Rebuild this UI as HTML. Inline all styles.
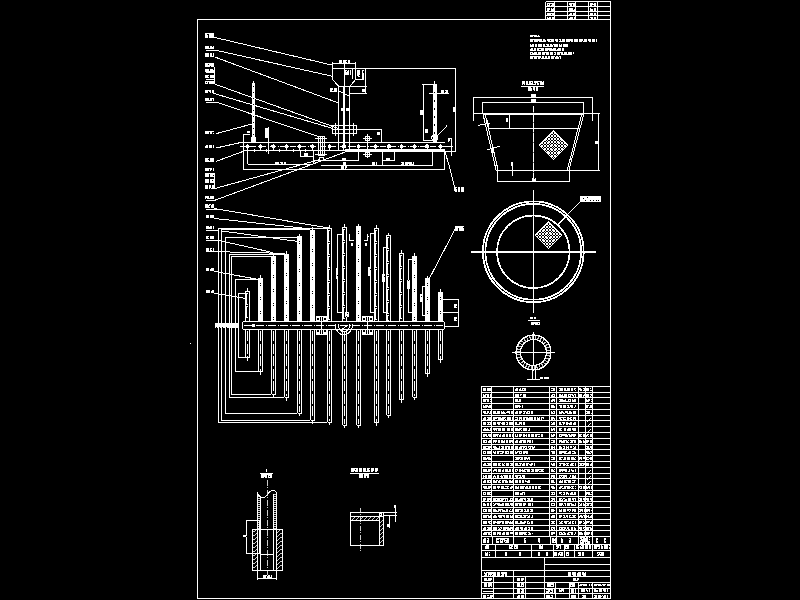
<!DOCTYPE html>
<html><head><meta charset="utf-8"><style>
html,body{margin:0;padding:0;background:#000;width:800px;height:600px;overflow:hidden;font-family:"Liberation Sans",sans-serif;}
svg{display:block}
</style></head><body>
<svg width="800" height="600" viewBox="0 0 800 600">
<rect width="800" height="600" fill="#000"/>
<g shape-rendering="crispEdges" stroke-linecap="butt">
<rect x="197.50" y="19.50" width="413.00" height="579.30" fill="none" stroke="#fff" stroke-width="1"/>
<rect x="547" y="3" width="7" height="3" fill="#fff"/>
<path d="M550,4h1v2h-1zM548,4h1v1h-1zM551,4h1v1h-1z" fill="#000"/>
<rect x="547" y="8" width="7" height="3" fill="#fff"/>
<path d="M550,8h1v3h-1zM549,10h1v1h-1zM552,8h1v1h-1z" fill="#000"/>
<rect x="547" y="13" width="7" height="2" fill="#fff"/>
<path d="M551,14h1v1h-1zM551,14h1v1h-1z" fill="#000"/>
<rect x="547" y="17" width="7" height="2" fill="#fff"/>
<path d="M551,17h1v2h-1zM548,17h1v1h-1z" fill="#000"/>
<rect x="569" y="3" width="6" height="3" fill="#fff"/>
<path d="M572,4h1v2h-1zM572,4h1v1h-1zM569,5h1v1h-1z" fill="#000"/>
<rect x="569" y="8" width="6" height="3" fill="#fff"/>
<path d="M573,8h1v2h-1zM574,8h1v1h-1zM573,8h1v1h-1z" fill="#000"/>
<rect x="569" y="13" width="6" height="2" fill="#fff"/>
<path d="M572,13h1v2h-1zM569,13h1v1h-1z" fill="#000"/>
<rect x="569" y="17" width="6" height="2" fill="#fff"/>
<path d="M573,17h1v2h-1zM569,17h1v1h-1z" fill="#000"/>
<rect x="590" y="3" width="6" height="3" fill="#fff"/>
<path d="M593,3h1v1h-1zM592,5h1v1h-1zM593,5h1v1h-1z" fill="#000"/>
<rect x="590" y="8" width="6" height="3" fill="#fff"/>
<path d="M593,8h1v3h-1zM592,8h1v1h-1zM591,8h1v1h-1z" fill="#000"/>
<rect x="590" y="13" width="6" height="2" fill="#fff"/>
<path d="M593,13h1v2h-1zM593,14h1v1h-1z" fill="#000"/>
<rect x="590" y="17" width="6" height="2" fill="#fff"/>
<path d="M593,17h1v2h-1zM590,18h1v1h-1z" fill="#000"/>
<line x1="545.50" y1="1.50" x2="545.50" y2="19.50" stroke="#fff" stroke-width="1" />
<line x1="554.50" y1="1.50" x2="554.50" y2="19.50" stroke="#fff" stroke-width="1" />
<line x1="567.50" y1="1.50" x2="567.50" y2="19.50" stroke="#fff" stroke-width="1" />
<line x1="575.50" y1="1.50" x2="575.50" y2="19.50" stroke="#fff" stroke-width="1" />
<line x1="588.50" y1="1.50" x2="588.50" y2="19.50" stroke="#fff" stroke-width="1" />
<line x1="597.50" y1="1.50" x2="597.50" y2="19.50" stroke="#fff" stroke-width="1" />
<line x1="610.50" y1="1.50" x2="610.50" y2="19.50" stroke="#fff" stroke-width="1" />
<line x1="545.50" y1="1.50" x2="610.50" y2="1.50" stroke="#fff" stroke-width="1" />
<line x1="545.50" y1="6.50" x2="610.50" y2="6.50" stroke="#fff" stroke-width="1" />
<line x1="545.50" y1="11.50" x2="610.50" y2="11.50" stroke="#fff" stroke-width="1" />
<line x1="545.50" y1="15.50" x2="610.50" y2="15.50" stroke="#fff" stroke-width="1" />
<line x1="545.50" y1="19.50" x2="610.50" y2="19.50" stroke="#fff" stroke-width="1" />
<rect x="530" y="35" width="10" height="2" fill="#fff"/>
<path d="M533,36h1v1h-1zM537,35h1v1h-1zM539,35h1v1h-1z" fill="#000"/>
<rect x="530" y="39" width="67" height="3" fill="#fff"/>
<path d="M533,40h1v2h-1zM538,41h1v1h-1zM542,39h1v2h-1zM546,39h1v3h-1zM550,40h1v1h-1zM554,39h1v3h-1zM558,39h1v3h-1zM561,39h1v2h-1zM565,39h1v3h-1zM570,41h1v1h-1zM573,39h1v3h-1zM578,39h1v3h-1zM583,39h1v2h-1zM587,39h1v3h-1zM591,39h1v3h-1zM595,39h1v3h-1zM582,41h1v1h-1zM583,40h1v1h-1zM545,39h1v1h-1zM588,41h1v1h-1zM554,41h1v1h-1zM555,41h1v1h-1zM547,41h1v1h-1zM559,40h1v1h-1z" fill="#000"/>
<rect x="530" y="44" width="38" height="3" fill="#fff"/>
<path d="M534,44h1v3h-1zM537,44h1v3h-1zM542,44h1v3h-1zM545,44h1v2h-1zM549,44h1v2h-1zM553,45h1v2h-1zM558,44h1v3h-1zM562,44h1v3h-1zM560,44h1v1h-1zM546,45h1v1h-1zM531,44h1v1h-1zM552,44h1v1h-1z" fill="#000"/>
<rect x="530" y="48" width="34" height="3" fill="#fff"/>
<path d="M533,48h1v2h-1zM536,48h1v3h-1zM540,49h1v1h-1zM544,48h1v3h-1zM548,50h1v1h-1zM552,48h1v1h-1zM556,48h1v2h-1zM561,48h1v3h-1zM539,49h1v1h-1zM544,49h1v1h-1zM557,48h1v1h-1zM530,48h1v1h-1z" fill="#000"/>
<rect x="530" y="52" width="44" height="3" fill="#fff"/>
<path d="M533,52h1v1h-1zM537,52h1v2h-1zM541,52h1v3h-1zM545,53h1v2h-1zM549,52h1v3h-1zM553,52h1v3h-1zM556,52h1v3h-1zM560,53h1v2h-1zM563,52h1v2h-1zM567,52h1v2h-1zM572,52h1v2h-1zM572,52h1v1h-1zM554,53h1v1h-1zM573,54h1v1h-1zM572,54h1v1h-1zM531,53h1v1h-1z" fill="#000"/>
<rect x="530" y="56" width="31" height="3" fill="#fff"/>
<path d="M533,57h1v2h-1zM537,57h1v2h-1zM541,56h1v2h-1zM544,56h1v2h-1zM547,56h1v2h-1zM550,56h1v3h-1zM554,57h1v2h-1zM559,57h1v2h-1zM558,56h1v1h-1zM540,58h1v1h-1zM555,56h1v1h-1z" fill="#000"/>
<rect x="205" y="33" width="9" height="5" fill="#fff"/>
<path d="M208,34h1v4h-1zM207,34h1v1h-1z" fill="#000"/>
<rect x="205" y="46" width="9" height="3" fill="#fff"/>
<path d="M209,46h1v2h-1zM212,46h1v1h-1z" fill="#000"/>
<rect x="205" y="53" width="9" height="4" fill="#fff"/>
<path d="M209,53h1v4h-1zM212,53h1v3h-1zM209,54h1v1h-1z" fill="#000"/>
<rect x="205" y="63" width="9" height="4" fill="#fff"/>
<path d="M208,64h1v1h-1zM210,66h1v1h-1z" fill="#000"/>
<rect x="205" y="69" width="9" height="3" fill="#fff"/>
<path d="M209,69h1v2h-1zM213,69h1v1h-1z" fill="#000"/>
<rect x="205" y="75" width="9" height="3" fill="#fff"/>
<path d="M209,75h1v3h-1zM208,76h1v1h-1z" fill="#000"/>
<rect x="205" y="81" width="9" height="3" fill="#fff"/>
<path d="M208,82h1v2h-1zM206,82h1v1h-1z" fill="#000"/>
<rect x="205" y="90" width="9" height="3" fill="#fff"/>
<path d="M208,91h1v2h-1zM211,90h1v3h-1zM209,92h1v1h-1z" fill="#000"/>
<rect x="205" y="98" width="9" height="3" fill="#fff"/>
<path d="M209,98h1v2h-1zM212,99h1v2h-1zM212,99h1v1h-1z" fill="#000"/>
<rect x="205" y="131" width="9" height="3" fill="#fff"/>
<path d="M209,132h1v2h-1zM212,132h1v2h-1zM213,132h1v1h-1z" fill="#000"/>
<rect x="205" y="145" width="9" height="3" fill="#fff"/>
<path d="M208,145h1v3h-1zM212,145h1v3h-1zM205,145h1v1h-1z" fill="#000"/>
<rect x="205" y="158" width="9" height="4" fill="#fff"/>
<path d="M209,158h1v3h-1zM208,159h1v1h-1z" fill="#000"/>
<rect x="205" y="168" width="9" height="3" fill="#fff"/>
<path d="M209,169h1v2h-1zM212,168h1v3h-1zM211,170h1v1h-1z" fill="#000"/>
<rect x="205" y="173" width="9" height="4" fill="#fff"/>
<path d="M209,174h1v3h-1zM213,175h1v1h-1z" fill="#000"/>
<rect x="205" y="179" width="9" height="4" fill="#fff"/>
<path d="M209,179h1v4h-1zM212,180h1v1h-1z" fill="#000"/>
<rect x="205" y="185" width="9" height="4" fill="#fff"/>
<path d="M208,185h1v4h-1zM211,185h1v3h-1zM210,188h1v1h-1z" fill="#000"/>
<rect x="205" y="196" width="9" height="3" fill="#fff"/>
<path d="M209,196h1v2h-1zM206,198h1v1h-1z" fill="#000"/>
<rect x="205" y="204" width="9" height="4" fill="#fff"/>
<path d="M208,204h1v4h-1zM211,204h1v3h-1zM210,205h1v1h-1z" fill="#000"/>
<line x1="205.90" y1="50.40" x2="216.50" y2="50.40" stroke="#fff" stroke-width="1" />
<line x1="205.90" y1="72.90" x2="214.00" y2="72.90" stroke="#fff" stroke-width="1" />
<line x1="205.90" y1="79.60" x2="214.00" y2="79.60" stroke="#fff" stroke-width="1" />
<line x1="205.90" y1="102.50" x2="217.50" y2="102.50" stroke="#fff" stroke-width="1" />
<line x1="205.70" y1="200.00" x2="215.60" y2="200.00" stroke="#fff" stroke-width="1" />
<line x1="205.70" y1="209.30" x2="222.70" y2="209.30" stroke="#fff" stroke-width="1" />
<line x1="214.30" y1="67.00" x2="214.30" y2="84.20" stroke="#fff" stroke-width="1" />
<line x1="214.20" y1="172.50" x2="214.20" y2="188.70" stroke="#fff" stroke-width="1" />
<line x1="214.10" y1="37.30" x2="332.50" y2="65.20" stroke="#fff" stroke-width="1" />
<line x1="216.50" y1="50.40" x2="332.50" y2="76.30" stroke="#fff" stroke-width="1" />
<line x1="215.00" y1="57.10" x2="338.50" y2="103.00" stroke="#fff" stroke-width="1" />
<line x1="215.00" y1="84.20" x2="338.50" y2="128.50" stroke="#fff" stroke-width="1" />
<line x1="213.30" y1="93.30" x2="333.00" y2="128.50" stroke="#fff" stroke-width="1" />
<line x1="217.50" y1="102.50" x2="319.00" y2="136.80" stroke="#fff" stroke-width="1" />
<line x1="215.60" y1="133.80" x2="252.00" y2="124.00" stroke="#fff" stroke-width="1" />
<line x1="215.60" y1="148.10" x2="243.50" y2="141.90" stroke="#fff" stroke-width="1" />
<line x1="215.60" y1="161.50" x2="243.50" y2="151.30" stroke="#fff" stroke-width="1" />
<line x1="214.20" y1="188.70" x2="319.00" y2="159.80" stroke="#fff" stroke-width="1" />
<line x1="215.60" y1="200.00" x2="344.50" y2="152.30" stroke="#fff" stroke-width="1" />
<rect x="252.20" y="82.50" width="2.60" height="60.00" fill="#fff"/>
<line x1="253.50" y1="80.50" x2="253.50" y2="83.00" stroke="#fff" stroke-width="1" />
<rect x="253.10" y="86.00" width="0.80" height="1.20" fill="#000"/>
<rect x="253.10" y="92.00" width="0.80" height="1.20" fill="#000"/>
<rect x="253.10" y="98.00" width="0.80" height="1.20" fill="#000"/>
<rect x="253.10" y="104.00" width="0.80" height="1.20" fill="#000"/>
<rect x="253.10" y="110.00" width="0.80" height="1.20" fill="#000"/>
<rect x="253.10" y="116.00" width="0.80" height="1.20" fill="#000"/>
<rect x="253.10" y="122.00" width="0.80" height="1.20" fill="#000"/>
<rect x="253.10" y="128.00" width="0.80" height="1.20" fill="#000"/>
<rect x="253.10" y="134.00" width="0.80" height="1.20" fill="#000"/>
<rect x="251.30" y="137.20" width="4.10" height="5.10" fill="none" stroke="#fff" stroke-width="1"/>
<polyline points="243.50,142.30 243.50,134.00 249.90,134.00" fill="none" stroke="#fff" stroke-width="1"/>
<rect x="247" y="131" width="3" height="2" fill="#fff"/>
<rect x="265.00" y="128.00" width="3.20" height="9.70" fill="#fff"/>
<line x1="268.20" y1="127.20" x2="268.20" y2="154.20" stroke="#fff" stroke-width="1" />
<line x1="243.00" y1="142.30" x2="444.50" y2="142.30" stroke="#fff" stroke-width="1" />
<line x1="243.00" y1="150.30" x2="345.00" y2="150.30" stroke="#fff" stroke-width="1" />
<rect x="345.00" y="149.20" width="99.50" height="2.80" fill="#fff"/>
<line x1="444.50" y1="151.60" x2="455.70" y2="151.60" stroke="#fff" stroke-width="1" />
<line x1="240" y1="146.4" x2="452" y2="146.4" stroke="#fff" stroke-width="1" stroke-dasharray="6,1.5,1,1.5"/>
<circle cx="247.60" cy="146.40" r="1.60" fill="#fff" stroke="#fff" stroke-width="1"/>
<line x1="247.60" y1="146.40" x2="247.60" y2="150.00" stroke="#fff" stroke-width="1" />
<circle cx="260.40" cy="146.40" r="1.60" fill="#fff" stroke="#fff" stroke-width="1"/>
<line x1="260.40" y1="146.40" x2="260.40" y2="150.00" stroke="#fff" stroke-width="1" />
<circle cx="273.30" cy="146.40" r="1.60" fill="#fff" stroke="#fff" stroke-width="1"/>
<line x1="273.30" y1="146.40" x2="273.30" y2="150.00" stroke="#fff" stroke-width="1" />
<circle cx="286.50" cy="146.40" r="1.60" fill="#fff" stroke="#fff" stroke-width="1"/>
<line x1="286.50" y1="146.40" x2="286.50" y2="150.00" stroke="#fff" stroke-width="1" />
<circle cx="299.50" cy="146.40" r="1.60" fill="#fff" stroke="#fff" stroke-width="1"/>
<line x1="299.50" y1="146.40" x2="299.50" y2="150.00" stroke="#fff" stroke-width="1" />
<circle cx="312.30" cy="146.40" r="1.60" fill="#fff" stroke="#fff" stroke-width="1"/>
<line x1="312.30" y1="146.40" x2="312.30" y2="150.00" stroke="#fff" stroke-width="1" />
<circle cx="329.60" cy="146.40" r="1.60" fill="#fff" stroke="#fff" stroke-width="1"/>
<line x1="329.60" y1="146.40" x2="329.60" y2="150.00" stroke="#fff" stroke-width="1" />
<circle cx="343.80" cy="146.40" r="1.60" fill="#fff" stroke="#fff" stroke-width="1"/>
<line x1="343.80" y1="146.40" x2="343.80" y2="150.00" stroke="#fff" stroke-width="1" />
<circle cx="358.60" cy="146.40" r="1.60" fill="#fff" stroke="#fff" stroke-width="1"/>
<line x1="358.60" y1="146.40" x2="358.60" y2="150.00" stroke="#fff" stroke-width="1" />
<circle cx="375.60" cy="146.40" r="1.60" fill="#fff" stroke="#fff" stroke-width="1"/>
<line x1="375.60" y1="146.40" x2="375.60" y2="150.00" stroke="#fff" stroke-width="1" />
<circle cx="388.90" cy="146.40" r="1.60" fill="#fff" stroke="#fff" stroke-width="1"/>
<line x1="388.90" y1="146.40" x2="388.90" y2="150.00" stroke="#fff" stroke-width="1" />
<circle cx="401.60" cy="146.40" r="1.60" fill="#fff" stroke="#fff" stroke-width="1"/>
<line x1="401.60" y1="146.40" x2="401.60" y2="150.00" stroke="#fff" stroke-width="1" />
<circle cx="414.50" cy="146.40" r="1.60" fill="#fff" stroke="#fff" stroke-width="1"/>
<line x1="414.50" y1="146.40" x2="414.50" y2="150.00" stroke="#fff" stroke-width="1" />
<circle cx="427.10" cy="146.40" r="1.60" fill="#fff" stroke="#fff" stroke-width="1"/>
<line x1="427.10" y1="146.40" x2="427.10" y2="150.00" stroke="#fff" stroke-width="1" />
<circle cx="440.40" cy="146.40" r="1.60" fill="#fff" stroke="#fff" stroke-width="1"/>
<line x1="440.40" y1="146.40" x2="440.40" y2="150.00" stroke="#fff" stroke-width="1" />
<line x1="254.00" y1="149.00" x2="254.00" y2="151.60" stroke="#fff" stroke-width="1" />
<line x1="266.80" y1="149.00" x2="266.80" y2="151.60" stroke="#fff" stroke-width="1" />
<line x1="279.90" y1="149.00" x2="279.90" y2="151.60" stroke="#fff" stroke-width="1" />
<line x1="293.00" y1="149.00" x2="293.00" y2="151.60" stroke="#fff" stroke-width="1" />
<line x1="305.90" y1="149.00" x2="305.90" y2="151.60" stroke="#fff" stroke-width="1" />
<line x1="243.50" y1="142.30" x2="243.50" y2="169.80" stroke="#fff" stroke-width="1" />
<line x1="243.50" y1="169.80" x2="444.60" y2="169.80" stroke="#fff" stroke-width="1" />
<line x1="444.60" y1="151.60" x2="444.60" y2="169.80" stroke="#fff" stroke-width="1" />
<line x1="247.60" y1="150.00" x2="247.60" y2="164.20" stroke="#fff" stroke-width="1" />
<line x1="247.60" y1="164.20" x2="313.00" y2="164.20" stroke="#fff" stroke-width="1" />
<line x1="313.00" y1="150.00" x2="313.00" y2="164.20" stroke="#fff" stroke-width="1" />
<line x1="300.00" y1="156.90" x2="312.50" y2="156.90" stroke="#fff" stroke-width="1" />
<line x1="300.00" y1="150.30" x2="300.00" y2="156.90" stroke="#fff" stroke-width="1" />
<rect x="275" y="162" width="11" height="2" fill="#fff"/>
<path d="M279,162h1v2h-1zM283,162h1v2h-1zM280,163h1v1h-1z" fill="#000"/>
<rect x="304" y="153" width="4" height="3" fill="#fff"/>
<line x1="321.00" y1="165.00" x2="432.80" y2="165.00" stroke="#fff" stroke-width="1" />
<line x1="432.80" y1="151.60" x2="432.80" y2="165.00" stroke="#fff" stroke-width="1" />
<line x1="312.50" y1="160.60" x2="358.40" y2="160.60" stroke="#fff" stroke-width="1" />
<line x1="358.40" y1="151.60" x2="358.40" y2="160.60" stroke="#fff" stroke-width="1" />
<rect x="342" y="158" width="4" height="2" fill="#fff"/>
<rect x="343" y="162" width="3" height="3" fill="#fff"/>
<rect x="341" y="166" width="6" height="3" fill="#fff"/>
<path d="M344,166h1v3h-1zM346,168h1v1h-1z" fill="#000"/>
<line x1="382.00" y1="151.60" x2="382.00" y2="165.00" stroke="#fff" stroke-width="1" />
<line x1="394.50" y1="151.60" x2="394.50" y2="160.50" stroke="#fff" stroke-width="1" />
<line x1="382.00" y1="160.50" x2="394.50" y2="160.50" stroke="#fff" stroke-width="1" />
<rect x="386" y="158" width="4" height="2" fill="#fff"/>
<rect x="372" y="162" width="5" height="3" fill="#fff"/>
<path d="M375,162h1v3h-1z" fill="#000"/>
<rect x="401" y="162" width="13" height="3" fill="#fff"/>
<path d="M404,162h1v3h-1zM408,164h1v1h-1zM412,162h1v2h-1zM408,164h1v1h-1zM401,163h1v1h-1z" fill="#000"/>
<rect x="318.30" y="136.70" width="5.80" height="18.60" fill="none" stroke="#fff" stroke-width="1"/>
<line x1="320.00" y1="137.00" x2="320.00" y2="155.00" stroke="#fff" stroke-width="1" />
<line x1="322.30" y1="137.00" x2="322.30" y2="155.00" stroke="#fff" stroke-width="1" />
<line x1="315.30" y1="138.00" x2="326.70" y2="138.00" stroke="#fff" stroke-width="1" />
<line x1="315.30" y1="154.30" x2="326.70" y2="154.30" stroke="#fff" stroke-width="1" />
<rect x="319.70" y="157.50" width="4.00" height="2.50" fill="none" stroke="#fff" stroke-width="1"/>
<line x1="362.50" y1="138.50" x2="372.00" y2="138.50" stroke="#fff" stroke-width="1" />
<line x1="362.50" y1="154.50" x2="372.00" y2="154.50" stroke="#fff" stroke-width="1" />
<rect x="365.00" y="136.60" width="4.50" height="3.70" fill="none" stroke="#fff" stroke-width="1"/>
<rect x="365.00" y="152.50" width="4.50" height="3.70" fill="none" stroke="#fff" stroke-width="1"/>
<line x1="367.20" y1="134.00" x2="367.20" y2="158.00" stroke="#fff" stroke-width="1" />
<polygon points="332.50,63.60 355.80,63.60 355.80,79.40 350.00,86.10 338.50,86.10 332.50,79.40" fill="none" stroke="#fff" stroke-width="1"/>
<line x1="332.50" y1="62.00" x2="332.50" y2="63.60" stroke="#fff" stroke-width="1" />
<line x1="355.80" y1="62.00" x2="355.80" y2="63.60" stroke="#fff" stroke-width="1" />
<line x1="332.50" y1="68.50" x2="365.30" y2="68.50" stroke="#fff" stroke-width="1" />
<line x1="355.80" y1="79.40" x2="364.00" y2="79.40" stroke="#fff" stroke-width="1" />
<line x1="344.60" y1="63.60" x2="344.60" y2="148.00" stroke="#fff" stroke-width="1" />
<line x1="352.80" y1="69.00" x2="352.80" y2="79.00" stroke="#fff" stroke-width="1" />
<rect x="339" y="60" width="11" height="3" fill="#fff"/>
<path d="M342,60h1v3h-1zM347,60h1v3h-1zM346,61h1v1h-1z" fill="#000"/>
<rect x="345" y="70" width="6" height="5" fill="#fff"/>
<path d="M349,70h1v5h-1zM347,70h1v1h-1zM346,71h1v1h-1zM349,70h1v1h-1z" fill="#000"/>
<line x1="365.30" y1="68.50" x2="365.30" y2="93.30" stroke="#fff" stroke-width="1" />
<line x1="349.80" y1="86.50" x2="366.60" y2="86.50" stroke="#fff" stroke-width="1" />
<line x1="349.80" y1="93.30" x2="366.60" y2="93.30" stroke="#fff" stroke-width="1" />
<rect x="357" y="70" width="3" height="7" fill="#fff"/>
<path d="M359,75h1v1h-1zM357,76h1v1h-1z" fill="#000"/>
<rect x="362" y="70" width="2" height="9" fill="#fff"/>
<path d="M363,72h1v1h-1zM363,71h1v1h-1z" fill="#000"/>
<rect x="362" y="89" width="3" height="3" fill="#fff"/>
<line x1="338.50" y1="86.10" x2="338.50" y2="150.00" stroke="#fff" stroke-width="1" />
<line x1="349.80" y1="86.10" x2="349.80" y2="150.00" stroke="#fff" stroke-width="1" />
<line x1="343.70" y1="86.90" x2="343.70" y2="150.00" stroke="#fff" stroke-width="1" />
<rect x="330" y="88" width="7" height="4" fill="#fff"/>
<path d="M333,88h1v3h-1zM332,90h1v1h-1z" fill="#000"/>
<rect x="341" y="108" width="8" height="3" fill="#fff"/>
<path d="M345,108h1v3h-1zM345,109h1v1h-1z" fill="#000"/>
<line x1="338.50" y1="91.00" x2="349.00" y2="96.00" stroke="#fff" stroke-width="1" />
<rect x="332.50" y="125.30" width="23.50" height="8.40" fill="none" stroke="#fff" stroke-width="1"/>
<line x1="332.50" y1="129.50" x2="356.00" y2="129.50" stroke="#fff" stroke-width="1" />
<line x1="335.50" y1="122.50" x2="335.50" y2="136.00" stroke="#fff" stroke-width="1" />
<line x1="353.00" y1="122.50" x2="353.00" y2="136.00" stroke="#fff" stroke-width="1" />
<polyline points="356.00,129.00 381.20,129.00 381.20,143.00" fill="none" stroke="#fff" stroke-width="1"/>
<rect x="377" y="132" width="3" height="3" fill="#fff"/>
<polyline points="365.30,68.50 455.70,68.50 455.70,151.60" fill="none" stroke="#fff" stroke-width="1"/>
<rect x="453" y="107" width="2" height="5" fill="#fff"/>
<rect x="432.90" y="84.20" width="3.70" height="58.00" fill="#fff"/>
<line x1="434.80" y1="80.50" x2="434.80" y2="84.50" stroke="#fff" stroke-width="1" />
<rect x="434.30" y="92.00" width="1.00" height="1.50" fill="#000"/>
<rect x="434.30" y="100.00" width="1.00" height="1.50" fill="#000"/>
<rect x="434.30" y="108.00" width="1.00" height="1.50" fill="#000"/>
<rect x="434.30" y="116.00" width="1.00" height="1.50" fill="#000"/>
<rect x="434.30" y="124.00" width="1.00" height="1.50" fill="#000"/>
<rect x="434.30" y="132.00" width="1.00" height="1.50" fill="#000"/>
<polyline points="422.40,84.20 432.90,84.20" fill="none" stroke="#fff" stroke-width="1"/>
<line x1="423.30" y1="84.20" x2="423.30" y2="140.30" stroke="#fff" stroke-width="1" />
<line x1="423.30" y1="140.30" x2="432.90" y2="140.30" stroke="#fff" stroke-width="1" />
<rect x="420" y="110" width="3" height="5" fill="#fff"/>
<line x1="428.80" y1="93.30" x2="448.50" y2="93.30" stroke="#fff" stroke-width="1" />
<rect x="441" y="90" width="7" height="3" fill="#fff"/>
<path d="M444,90h1v3h-1zM445,91h1v1h-1z" fill="#000"/>
<circle cx="434.80" cy="137.80" r="3.00" fill="none" stroke="#fff" stroke-width="1"/>
<line x1="437.50" y1="135.60" x2="446.00" y2="127.00" stroke="#fff" stroke-width="1" />
<rect x="446" y="125" width="1" height="2" fill="#fff"/>
<rect x="425" y="129" width="3" height="4" fill="#fff"/>
<line x1="447.80" y1="138.30" x2="451.30" y2="138.30" stroke="#fff" stroke-width="1" />
<line x1="451.30" y1="138.30" x2="451.30" y2="155.70" stroke="#fff" stroke-width="1" />
<line x1="444.50" y1="146.30" x2="452.50" y2="146.30" stroke="#fff" stroke-width="1" />
<rect x="448" y="139" width="2" height="3" fill="#fff"/>
<path d="M449,141h1v1h-1z" fill="#000"/>
<line x1="445.00" y1="151.60" x2="449.80" y2="168.00" stroke="#fff" stroke-width="1" />
<line x1="449.80" y1="168.00" x2="454.60" y2="187.50" stroke="#fff" stroke-width="1" />
<rect x="454" y="187" width="10" height="5" fill="#fff"/>
<path d="M457,187h1v5h-1zM460,187h1v5h-1zM454,191h1v1h-1zM456,188h1v1h-1z" fill="#000"/>
<rect x="206" y="205" width="8" height="3" fill="#fff"/>
<path d="M210,205h1v3h-1zM209,206h1v1h-1z" fill="#000"/>
<rect x="206" y="215" width="8" height="3" fill="#fff"/>
<path d="M209,215h1v3h-1zM209,217h1v1h-1z" fill="#000"/>
<rect x="206" y="226" width="8" height="3" fill="#fff"/>
<path d="M209,226h1v1h-1zM212,226h1v3h-1zM212,228h1v1h-1z" fill="#000"/>
<rect x="206" y="236" width="8" height="3" fill="#fff"/>
<path d="M209,236h1v3h-1zM208,237h1v1h-1z" fill="#000"/>
<rect x="206" y="248" width="8" height="4" fill="#fff"/>
<path d="M209,248h1v4h-1zM212,248h1v3h-1zM211,249h1v1h-1z" fill="#000"/>
<rect x="206" y="268" width="8" height="3" fill="#fff"/>
<path d="M209,268h1v3h-1zM210,268h1v1h-1z" fill="#000"/>
<rect x="206" y="290" width="8" height="3" fill="#fff"/>
<path d="M210,290h1v3h-1zM211,290h1v1h-1z" fill="#000"/>
<line x1="206.10" y1="230.10" x2="217.50" y2="230.10" stroke="#fff" stroke-width="1" />
<line x1="206.10" y1="240.10" x2="217.50" y2="240.10" stroke="#fff" stroke-width="1" />
<line x1="206.10" y1="251.10" x2="217.70" y2="251.10" stroke="#fff" stroke-width="1" />
<polyline points="245.50,321.50 245.50,291.00 249.50,291.00 249.50,321.50" fill="none" stroke="#fff" stroke-width="1"/>
<polyline points="247.50,293.00 246.50,293.00 246.50,304.00 247.50,304.00" fill="none" stroke="#fff" stroke-width="1"/>
<polyline points="247.50,306.00 246.50,306.00 246.50,317.00 247.50,317.00" fill="none" stroke="#fff" stroke-width="1"/>
<line x1="247.50" y1="288.30" x2="247.50" y2="290.50" stroke="#fff" stroke-width="1" />
<line x1="245.50" y1="329.30" x2="245.50" y2="357.50" stroke="#fff" stroke-width="1" />
<line x1="249.50" y1="329.30" x2="249.50" y2="357.50" stroke="#fff" stroke-width="1" />
<line x1="245.50" y1="357.50" x2="249.50" y2="357.50" stroke="#fff" stroke-width="1" />
<line x1="247.50" y1="331.30" x2="247.50" y2="356.50" stroke="#fff" stroke-width="1" stroke-dasharray="10,2.5"/>
<line x1="247.50" y1="357.50" x2="247.50" y2="360.90" stroke="#fff" stroke-width="1" />
<rect x="258.00" y="278.00" width="5.00" height="43.50" fill="#fff"/>
<rect x="260.00" y="283.00" width="1.00" height="1.00" fill="#000"/>
<rect x="260.00" y="285.00" width="1.00" height="1.00" fill="#000"/>
<rect x="260.00" y="297.00" width="1.00" height="1.00" fill="#000"/>
<rect x="260.00" y="299.00" width="1.00" height="1.00" fill="#000"/>
<rect x="260.00" y="311.00" width="1.00" height="1.00" fill="#000"/>
<rect x="260.00" y="313.00" width="1.00" height="1.00" fill="#000"/>
<line x1="260.50" y1="275.30" x2="260.50" y2="277.50" stroke="#fff" stroke-width="1" />
<line x1="258.50" y1="329.30" x2="258.50" y2="371.60" stroke="#fff" stroke-width="1" />
<line x1="262.50" y1="329.30" x2="262.50" y2="371.60" stroke="#fff" stroke-width="1" />
<line x1="258.50" y1="371.60" x2="262.50" y2="371.60" stroke="#fff" stroke-width="1" />
<line x1="260.50" y1="331.30" x2="260.50" y2="370.60" stroke="#fff" stroke-width="1" stroke-dasharray="10,2.5"/>
<line x1="260.50" y1="371.60" x2="260.50" y2="375.00" stroke="#fff" stroke-width="1" />
<rect x="271.00" y="256.00" width="5.00" height="65.50" fill="#fff"/>
<rect x="273.00" y="261.00" width="1.00" height="1.00" fill="#000"/>
<rect x="273.00" y="263.00" width="1.00" height="1.00" fill="#000"/>
<rect x="273.00" y="275.00" width="1.00" height="1.00" fill="#000"/>
<rect x="273.00" y="277.00" width="1.00" height="1.00" fill="#000"/>
<rect x="273.00" y="289.00" width="1.00" height="1.00" fill="#000"/>
<rect x="273.00" y="291.00" width="1.00" height="1.00" fill="#000"/>
<rect x="273.00" y="303.00" width="1.00" height="1.00" fill="#000"/>
<rect x="273.00" y="305.00" width="1.00" height="1.00" fill="#000"/>
<rect x="273.00" y="317.00" width="1.00" height="1.00" fill="#000"/>
<rect x="273.00" y="319.00" width="1.00" height="1.00" fill="#000"/>
<line x1="273.50" y1="253.30" x2="273.50" y2="255.50" stroke="#fff" stroke-width="1" />
<line x1="271.50" y1="329.30" x2="271.50" y2="394.40" stroke="#fff" stroke-width="1" />
<line x1="275.50" y1="329.30" x2="275.50" y2="394.40" stroke="#fff" stroke-width="1" />
<line x1="271.50" y1="394.40" x2="275.50" y2="394.40" stroke="#fff" stroke-width="1" />
<line x1="273.50" y1="331.30" x2="273.50" y2="393.40" stroke="#fff" stroke-width="1" stroke-dasharray="10,2.5"/>
<line x1="273.50" y1="394.40" x2="273.50" y2="397.80" stroke="#fff" stroke-width="1" />
<rect x="284.00" y="254.00" width="5.00" height="67.50" fill="#fff"/>
<rect x="286.00" y="259.00" width="1.00" height="1.00" fill="#000"/>
<rect x="286.00" y="261.00" width="1.00" height="1.00" fill="#000"/>
<rect x="286.00" y="273.00" width="1.00" height="1.00" fill="#000"/>
<rect x="286.00" y="275.00" width="1.00" height="1.00" fill="#000"/>
<rect x="286.00" y="287.00" width="1.00" height="1.00" fill="#000"/>
<rect x="286.00" y="289.00" width="1.00" height="1.00" fill="#000"/>
<rect x="286.00" y="301.00" width="1.00" height="1.00" fill="#000"/>
<rect x="286.00" y="303.00" width="1.00" height="1.00" fill="#000"/>
<rect x="286.00" y="315.00" width="1.00" height="1.00" fill="#000"/>
<rect x="286.00" y="317.00" width="1.00" height="1.00" fill="#000"/>
<line x1="286.50" y1="251.30" x2="286.50" y2="253.50" stroke="#fff" stroke-width="1" />
<line x1="284.50" y1="329.30" x2="284.50" y2="397.20" stroke="#fff" stroke-width="1" />
<line x1="288.50" y1="329.30" x2="288.50" y2="397.20" stroke="#fff" stroke-width="1" />
<line x1="284.50" y1="397.20" x2="288.50" y2="397.20" stroke="#fff" stroke-width="1" />
<line x1="286.50" y1="331.30" x2="286.50" y2="396.20" stroke="#fff" stroke-width="1" stroke-dasharray="10,2.5"/>
<line x1="286.50" y1="397.20" x2="286.50" y2="400.60" stroke="#fff" stroke-width="1" />
<rect x="297.00" y="236.00" width="5.00" height="85.50" fill="#fff"/>
<rect x="299.00" y="241.00" width="1.00" height="1.00" fill="#000"/>
<rect x="299.00" y="243.00" width="1.00" height="1.00" fill="#000"/>
<rect x="299.00" y="255.00" width="1.00" height="1.00" fill="#000"/>
<rect x="299.00" y="257.00" width="1.00" height="1.00" fill="#000"/>
<rect x="299.00" y="269.00" width="1.00" height="1.00" fill="#000"/>
<rect x="299.00" y="271.00" width="1.00" height="1.00" fill="#000"/>
<rect x="299.00" y="283.00" width="1.00" height="1.00" fill="#000"/>
<rect x="299.00" y="285.00" width="1.00" height="1.00" fill="#000"/>
<rect x="299.00" y="297.00" width="1.00" height="1.00" fill="#000"/>
<rect x="299.00" y="299.00" width="1.00" height="1.00" fill="#000"/>
<rect x="299.00" y="311.00" width="1.00" height="1.00" fill="#000"/>
<rect x="299.00" y="313.00" width="1.00" height="1.00" fill="#000"/>
<line x1="299.50" y1="233.80" x2="299.50" y2="236.00" stroke="#fff" stroke-width="1" />
<line x1="297.50" y1="329.30" x2="297.50" y2="413.00" stroke="#fff" stroke-width="1" />
<line x1="301.50" y1="329.30" x2="301.50" y2="413.00" stroke="#fff" stroke-width="1" />
<line x1="297.50" y1="413.00" x2="301.50" y2="413.00" stroke="#fff" stroke-width="1" />
<line x1="299.50" y1="331.30" x2="299.50" y2="412.00" stroke="#fff" stroke-width="1" stroke-dasharray="10,2.5"/>
<line x1="299.50" y1="413.00" x2="299.50" y2="416.40" stroke="#fff" stroke-width="1" />
<rect x="310.00" y="230.00" width="5.00" height="91.50" fill="#fff"/>
<rect x="312.00" y="235.00" width="1.00" height="1.00" fill="#000"/>
<rect x="312.00" y="237.00" width="1.00" height="1.00" fill="#000"/>
<rect x="312.00" y="249.00" width="1.00" height="1.00" fill="#000"/>
<rect x="312.00" y="251.00" width="1.00" height="1.00" fill="#000"/>
<rect x="312.00" y="263.00" width="1.00" height="1.00" fill="#000"/>
<rect x="312.00" y="265.00" width="1.00" height="1.00" fill="#000"/>
<rect x="312.00" y="277.00" width="1.00" height="1.00" fill="#000"/>
<rect x="312.00" y="279.00" width="1.00" height="1.00" fill="#000"/>
<rect x="312.00" y="291.00" width="1.00" height="1.00" fill="#000"/>
<rect x="312.00" y="293.00" width="1.00" height="1.00" fill="#000"/>
<rect x="312.00" y="305.00" width="1.00" height="1.00" fill="#000"/>
<rect x="312.00" y="307.00" width="1.00" height="1.00" fill="#000"/>
<line x1="312.50" y1="227.30" x2="312.50" y2="229.50" stroke="#fff" stroke-width="1" />
<line x1="310.50" y1="329.30" x2="310.50" y2="420.40" stroke="#fff" stroke-width="1" />
<line x1="314.50" y1="329.30" x2="314.50" y2="420.40" stroke="#fff" stroke-width="1" />
<line x1="310.50" y1="420.40" x2="314.50" y2="420.40" stroke="#fff" stroke-width="1" />
<line x1="312.50" y1="331.30" x2="312.50" y2="419.40" stroke="#fff" stroke-width="1" stroke-dasharray="10,2.5"/>
<line x1="312.50" y1="420.40" x2="312.50" y2="423.80" stroke="#fff" stroke-width="1" />
<polyline points="327.50,321.50 327.50,228.00 331.50,228.00 331.50,321.50" fill="none" stroke="#fff" stroke-width="1"/>
<polyline points="329.50,230.00 328.50,230.00 328.50,241.00 329.50,241.00" fill="none" stroke="#fff" stroke-width="1"/>
<polyline points="329.50,243.00 328.50,243.00 328.50,254.00 329.50,254.00" fill="none" stroke="#fff" stroke-width="1"/>
<polyline points="329.50,256.00 328.50,256.00 328.50,267.00 329.50,267.00" fill="none" stroke="#fff" stroke-width="1"/>
<polyline points="329.50,269.00 328.50,269.00 328.50,280.00 329.50,280.00" fill="none" stroke="#fff" stroke-width="1"/>
<polyline points="329.50,282.00 328.50,282.00 328.50,293.00 329.50,293.00" fill="none" stroke="#fff" stroke-width="1"/>
<polyline points="329.50,295.00 328.50,295.00 328.50,306.00 329.50,306.00" fill="none" stroke="#fff" stroke-width="1"/>
<polyline points="329.50,308.00 328.50,308.00 328.50,319.00 329.50,319.00" fill="none" stroke="#fff" stroke-width="1"/>
<line x1="329.50" y1="225.30" x2="329.50" y2="227.50" stroke="#fff" stroke-width="1" />
<line x1="327.50" y1="329.30" x2="327.50" y2="422.00" stroke="#fff" stroke-width="1" />
<line x1="331.50" y1="329.30" x2="331.50" y2="422.00" stroke="#fff" stroke-width="1" />
<line x1="327.50" y1="422.00" x2="331.50" y2="422.00" stroke="#fff" stroke-width="1" />
<line x1="329.50" y1="331.30" x2="329.50" y2="421.00" stroke="#fff" stroke-width="1" stroke-dasharray="10,2.5"/>
<line x1="329.50" y1="422.00" x2="329.50" y2="425.40" stroke="#fff" stroke-width="1" />
<polyline points="342.50,321.50 342.50,227.00 346.50,227.00 346.50,321.50" fill="none" stroke="#fff" stroke-width="1"/>
<polyline points="344.50,229.00 343.50,229.00 343.50,240.00 344.50,240.00" fill="none" stroke="#fff" stroke-width="1"/>
<polyline points="344.50,242.00 343.50,242.00 343.50,253.00 344.50,253.00" fill="none" stroke="#fff" stroke-width="1"/>
<polyline points="344.50,255.00 343.50,255.00 343.50,266.00 344.50,266.00" fill="none" stroke="#fff" stroke-width="1"/>
<polyline points="344.50,268.00 343.50,268.00 343.50,279.00 344.50,279.00" fill="none" stroke="#fff" stroke-width="1"/>
<polyline points="344.50,281.00 343.50,281.00 343.50,292.00 344.50,292.00" fill="none" stroke="#fff" stroke-width="1"/>
<polyline points="344.50,294.00 343.50,294.00 343.50,305.00 344.50,305.00" fill="none" stroke="#fff" stroke-width="1"/>
<polyline points="344.50,307.00 343.50,307.00 343.50,318.00 344.50,318.00" fill="none" stroke="#fff" stroke-width="1"/>
<line x1="344.50" y1="224.30" x2="344.50" y2="226.50" stroke="#fff" stroke-width="1" />
<line x1="342.50" y1="329.30" x2="342.50" y2="425.00" stroke="#fff" stroke-width="1" />
<line x1="346.50" y1="329.30" x2="346.50" y2="425.00" stroke="#fff" stroke-width="1" />
<line x1="342.50" y1="425.00" x2="346.50" y2="425.00" stroke="#fff" stroke-width="1" />
<line x1="344.50" y1="331.30" x2="344.50" y2="424.00" stroke="#fff" stroke-width="1" stroke-dasharray="10,2.5"/>
<line x1="344.50" y1="425.00" x2="344.50" y2="428.40" stroke="#fff" stroke-width="1" />
<rect x="356.00" y="226.00" width="5.00" height="95.50" fill="#fff"/>
<rect x="358.00" y="231.00" width="1.00" height="1.00" fill="#000"/>
<rect x="358.00" y="233.00" width="1.00" height="1.00" fill="#000"/>
<rect x="358.00" y="245.00" width="1.00" height="1.00" fill="#000"/>
<rect x="358.00" y="247.00" width="1.00" height="1.00" fill="#000"/>
<rect x="358.00" y="259.00" width="1.00" height="1.00" fill="#000"/>
<rect x="358.00" y="261.00" width="1.00" height="1.00" fill="#000"/>
<rect x="358.00" y="273.00" width="1.00" height="1.00" fill="#000"/>
<rect x="358.00" y="275.00" width="1.00" height="1.00" fill="#000"/>
<rect x="358.00" y="287.00" width="1.00" height="1.00" fill="#000"/>
<rect x="358.00" y="289.00" width="1.00" height="1.00" fill="#000"/>
<rect x="358.00" y="301.00" width="1.00" height="1.00" fill="#000"/>
<rect x="358.00" y="303.00" width="1.00" height="1.00" fill="#000"/>
<rect x="358.00" y="315.00" width="1.00" height="1.00" fill="#000"/>
<rect x="358.00" y="317.00" width="1.00" height="1.00" fill="#000"/>
<line x1="358.50" y1="223.80" x2="358.50" y2="226.00" stroke="#fff" stroke-width="1" />
<line x1="356.50" y1="329.30" x2="356.50" y2="425.00" stroke="#fff" stroke-width="1" />
<line x1="360.50" y1="329.30" x2="360.50" y2="425.00" stroke="#fff" stroke-width="1" />
<line x1="356.50" y1="425.00" x2="360.50" y2="425.00" stroke="#fff" stroke-width="1" />
<line x1="358.50" y1="331.30" x2="358.50" y2="424.00" stroke="#fff" stroke-width="1" stroke-dasharray="10,2.5"/>
<line x1="358.50" y1="425.00" x2="358.50" y2="428.40" stroke="#fff" stroke-width="1" />
<polyline points="374.50,321.50 374.50,228.00 378.50,228.00 378.50,321.50" fill="none" stroke="#fff" stroke-width="1"/>
<polyline points="376.50,230.00 375.50,230.00 375.50,241.00 376.50,241.00" fill="none" stroke="#fff" stroke-width="1"/>
<polyline points="376.50,243.00 375.50,243.00 375.50,254.00 376.50,254.00" fill="none" stroke="#fff" stroke-width="1"/>
<polyline points="376.50,256.00 375.50,256.00 375.50,267.00 376.50,267.00" fill="none" stroke="#fff" stroke-width="1"/>
<polyline points="376.50,269.00 375.50,269.00 375.50,280.00 376.50,280.00" fill="none" stroke="#fff" stroke-width="1"/>
<polyline points="376.50,282.00 375.50,282.00 375.50,293.00 376.50,293.00" fill="none" stroke="#fff" stroke-width="1"/>
<polyline points="376.50,295.00 375.50,295.00 375.50,306.00 376.50,306.00" fill="none" stroke="#fff" stroke-width="1"/>
<polyline points="376.50,308.00 375.50,308.00 375.50,319.00 376.50,319.00" fill="none" stroke="#fff" stroke-width="1"/>
<line x1="376.50" y1="225.30" x2="376.50" y2="227.50" stroke="#fff" stroke-width="1" />
<line x1="374.50" y1="329.30" x2="374.50" y2="422.50" stroke="#fff" stroke-width="1" />
<line x1="378.50" y1="329.30" x2="378.50" y2="422.50" stroke="#fff" stroke-width="1" />
<line x1="374.50" y1="422.50" x2="378.50" y2="422.50" stroke="#fff" stroke-width="1" />
<line x1="376.50" y1="331.30" x2="376.50" y2="421.50" stroke="#fff" stroke-width="1" stroke-dasharray="10,2.5"/>
<line x1="376.50" y1="422.50" x2="376.50" y2="425.90" stroke="#fff" stroke-width="1" />
<polyline points="386.50,321.50 386.50,235.50 390.50,235.50 390.50,321.50" fill="none" stroke="#fff" stroke-width="1"/>
<polyline points="388.50,237.50 387.50,237.50 387.50,248.50 388.50,248.50" fill="none" stroke="#fff" stroke-width="1"/>
<polyline points="388.50,250.50 387.50,250.50 387.50,261.50 388.50,261.50" fill="none" stroke="#fff" stroke-width="1"/>
<polyline points="388.50,263.50 387.50,263.50 387.50,274.50 388.50,274.50" fill="none" stroke="#fff" stroke-width="1"/>
<polyline points="388.50,276.50 387.50,276.50 387.50,287.50 388.50,287.50" fill="none" stroke="#fff" stroke-width="1"/>
<polyline points="388.50,289.50 387.50,289.50 387.50,300.50 388.50,300.50" fill="none" stroke="#fff" stroke-width="1"/>
<polyline points="388.50,302.50 387.50,302.50 387.50,313.50 388.50,313.50" fill="none" stroke="#fff" stroke-width="1"/>
<polyline points="388.50,315.50 387.50,315.50 387.50,320.00 388.50,320.00" fill="none" stroke="#fff" stroke-width="1"/>
<line x1="388.50" y1="232.80" x2="388.50" y2="235.00" stroke="#fff" stroke-width="1" />
<line x1="386.50" y1="329.30" x2="386.50" y2="415.00" stroke="#fff" stroke-width="1" />
<line x1="390.50" y1="329.30" x2="390.50" y2="415.00" stroke="#fff" stroke-width="1" />
<line x1="386.50" y1="415.00" x2="390.50" y2="415.00" stroke="#fff" stroke-width="1" />
<line x1="388.50" y1="331.30" x2="388.50" y2="414.00" stroke="#fff" stroke-width="1" stroke-dasharray="10,2.5"/>
<line x1="388.50" y1="415.00" x2="388.50" y2="418.40" stroke="#fff" stroke-width="1" />
<polyline points="399.50,321.50 399.50,253.00 403.50,253.00 403.50,321.50" fill="none" stroke="#fff" stroke-width="1"/>
<polyline points="401.50,255.00 400.50,255.00 400.50,266.00 401.50,266.00" fill="none" stroke="#fff" stroke-width="1"/>
<polyline points="401.50,268.00 400.50,268.00 400.50,279.00 401.50,279.00" fill="none" stroke="#fff" stroke-width="1"/>
<polyline points="401.50,281.00 400.50,281.00 400.50,292.00 401.50,292.00" fill="none" stroke="#fff" stroke-width="1"/>
<polyline points="401.50,294.00 400.50,294.00 400.50,305.00 401.50,305.00" fill="none" stroke="#fff" stroke-width="1"/>
<polyline points="401.50,307.00 400.50,307.00 400.50,318.00 401.50,318.00" fill="none" stroke="#fff" stroke-width="1"/>
<line x1="401.50" y1="250.30" x2="401.50" y2="252.50" stroke="#fff" stroke-width="1" />
<line x1="399.50" y1="329.30" x2="399.50" y2="399.50" stroke="#fff" stroke-width="1" />
<line x1="403.50" y1="329.30" x2="403.50" y2="399.50" stroke="#fff" stroke-width="1" />
<line x1="399.50" y1="399.50" x2="403.50" y2="399.50" stroke="#fff" stroke-width="1" />
<line x1="401.50" y1="331.30" x2="401.50" y2="398.50" stroke="#fff" stroke-width="1" stroke-dasharray="10,2.5"/>
<line x1="401.50" y1="399.50" x2="401.50" y2="402.90" stroke="#fff" stroke-width="1" />
<rect x="412.00" y="256.00" width="5.00" height="65.50" fill="#fff"/>
<rect x="414.00" y="261.00" width="1.00" height="1.00" fill="#000"/>
<rect x="414.00" y="263.00" width="1.00" height="1.00" fill="#000"/>
<rect x="414.00" y="275.00" width="1.00" height="1.00" fill="#000"/>
<rect x="414.00" y="277.00" width="1.00" height="1.00" fill="#000"/>
<rect x="414.00" y="289.00" width="1.00" height="1.00" fill="#000"/>
<rect x="414.00" y="291.00" width="1.00" height="1.00" fill="#000"/>
<rect x="414.00" y="303.00" width="1.00" height="1.00" fill="#000"/>
<rect x="414.00" y="305.00" width="1.00" height="1.00" fill="#000"/>
<rect x="414.00" y="317.00" width="1.00" height="1.00" fill="#000"/>
<rect x="414.00" y="319.00" width="1.00" height="1.00" fill="#000"/>
<line x1="414.50" y1="253.30" x2="414.50" y2="255.50" stroke="#fff" stroke-width="1" />
<line x1="412.50" y1="329.30" x2="412.50" y2="397.00" stroke="#fff" stroke-width="1" />
<line x1="416.50" y1="329.30" x2="416.50" y2="397.00" stroke="#fff" stroke-width="1" />
<line x1="412.50" y1="397.00" x2="416.50" y2="397.00" stroke="#fff" stroke-width="1" />
<line x1="414.50" y1="331.30" x2="414.50" y2="396.00" stroke="#fff" stroke-width="1" stroke-dasharray="10,2.5"/>
<line x1="414.50" y1="397.00" x2="414.50" y2="400.40" stroke="#fff" stroke-width="1" />
<rect x="425.00" y="278.00" width="5.00" height="43.50" fill="#fff"/>
<rect x="427.00" y="283.00" width="1.00" height="1.00" fill="#000"/>
<rect x="427.00" y="285.00" width="1.00" height="1.00" fill="#000"/>
<rect x="427.00" y="297.00" width="1.00" height="1.00" fill="#000"/>
<rect x="427.00" y="299.00" width="1.00" height="1.00" fill="#000"/>
<rect x="427.00" y="311.00" width="1.00" height="1.00" fill="#000"/>
<rect x="427.00" y="313.00" width="1.00" height="1.00" fill="#000"/>
<line x1="427.50" y1="276.30" x2="427.50" y2="278.50" stroke="#fff" stroke-width="1" />
<line x1="425.50" y1="329.30" x2="425.50" y2="373.80" stroke="#fff" stroke-width="1" />
<line x1="429.50" y1="329.30" x2="429.50" y2="373.80" stroke="#fff" stroke-width="1" />
<line x1="425.50" y1="373.80" x2="429.50" y2="373.80" stroke="#fff" stroke-width="1" />
<line x1="427.50" y1="331.30" x2="427.50" y2="372.80" stroke="#fff" stroke-width="1" stroke-dasharray="10,2.5"/>
<line x1="427.50" y1="373.80" x2="427.50" y2="377.20" stroke="#fff" stroke-width="1" />
<rect x="438.00" y="292.00" width="5.00" height="29.50" fill="#fff"/>
<rect x="440.00" y="297.00" width="1.00" height="1.00" fill="#000"/>
<rect x="440.00" y="299.00" width="1.00" height="1.00" fill="#000"/>
<rect x="440.00" y="311.00" width="1.00" height="1.00" fill="#000"/>
<rect x="440.00" y="313.00" width="1.00" height="1.00" fill="#000"/>
<line x1="440.50" y1="289.30" x2="440.50" y2="291.50" stroke="#fff" stroke-width="1" />
<line x1="438.50" y1="329.30" x2="438.50" y2="359.50" stroke="#fff" stroke-width="1" />
<line x1="442.50" y1="329.30" x2="442.50" y2="359.50" stroke="#fff" stroke-width="1" />
<line x1="438.50" y1="359.50" x2="442.50" y2="359.50" stroke="#fff" stroke-width="1" />
<line x1="440.50" y1="331.30" x2="440.50" y2="358.50" stroke="#fff" stroke-width="1" stroke-dasharray="10,2.5"/>
<line x1="440.50" y1="359.50" x2="440.50" y2="362.90" stroke="#fff" stroke-width="1" />
<polyline points="342.00,234.00 337.50,234.00 337.50,312.50 342.00,312.50" fill="none" stroke="#fff" stroke-width="1"/>
<polyline points="373.80,233.50 370.00,233.50 370.00,312.50 373.80,312.50" fill="none" stroke="#fff" stroke-width="1"/>
<polyline points="386.30,247.20 383.40,247.20 383.40,312.20 386.30,312.20" fill="none" stroke="#fff" stroke-width="1"/>
<polyline points="412.50,259.80 408.60,259.80 408.60,312.20 412.50,312.20" fill="none" stroke="#fff" stroke-width="1"/>
<polyline points="425.30,286.00 422.00,286.00 422.00,315.00 425.30,315.00" fill="none" stroke="#fff" stroke-width="1"/>
<rect x="336" y="268" width="2" height="11" fill="#fff"/>
<path d="M337,275h1v1h-1z" fill="#000"/>
<rect x="368" y="267" width="3" height="9" fill="#fff"/>
<path d="M370,269h1v1h-1z" fill="#000"/>
<rect x="382" y="274" width="3" height="8" fill="#fff"/>
<path d="M384,276h1v1h-1z" fill="#000"/>
<rect x="407" y="280" width="3" height="9" fill="#fff"/>
<path d="M408,280h1v1h-1z" fill="#000"/>
<rect x="420" y="294" width="3" height="8" fill="#fff"/>
<path d="M421,296h1v1h-1z" fill="#000"/>
<polyline points="349.50,233.50 349.50,240.50 353.50,240.50" fill="none" stroke="#fff" stroke-width="1"/>
<line x1="348.50" y1="236.50" x2="349.50" y2="236.50" stroke="#fff" stroke-width="1" />
<rect x="351" y="243" width="2" height="3" fill="#fff"/>
<polyline points="367.50,233.50 367.50,240.50 363.50,240.50" fill="none" stroke="#fff" stroke-width="1"/>
<line x1="367.50" y1="236.50" x2="368.50" y2="236.50" stroke="#fff" stroke-width="1" />
<rect x="365" y="243" width="2" height="3" fill="#fff"/>
<polyline points="245.00,293.50 238.00,293.50 238.00,357.50 245.00,357.50" fill="none" stroke="#fff" stroke-width="1"/>
<polyline points="258.00,279.50 235.50,279.50 235.50,371.60 258.00,371.60" fill="none" stroke="#fff" stroke-width="1"/>
<polyline points="271.00,256.40 231.70,256.40 231.70,394.40 271.00,394.40" fill="none" stroke="#fff" stroke-width="1"/>
<polyline points="284.00,254.80 229.00,254.80 229.00,397.20 284.00,397.20" fill="none" stroke="#fff" stroke-width="1"/>
<polyline points="297.00,237.60 225.30,237.60 225.30,413.00 297.00,413.00" fill="none" stroke="#fff" stroke-width="1"/>
<polyline points="310.00,229.80 221.00,229.80 221.00,420.40 310.00,420.40" fill="none" stroke="#fff" stroke-width="1"/>
<polyline points="327.00,228.30 218.20,228.30 218.20,422.00 327.00,422.00" fill="none" stroke="#fff" stroke-width="1"/>
<line x1="213.80" y1="208.40" x2="329.00" y2="228.10" stroke="#fff" stroke-width="1" />
<line x1="213.80" y1="218.40" x2="311.30" y2="229.00" stroke="#fff" stroke-width="1" />
<line x1="220.60" y1="231.00" x2="225.00" y2="231.00" stroke="#fff" stroke-width="1" />
<line x1="225.00" y1="231.40" x2="297.50" y2="241.40" stroke="#fff" stroke-width="1" />
<line x1="217.50" y1="240.10" x2="273.10" y2="252.60" stroke="#fff" stroke-width="1" />
<line x1="213.80" y1="251.60" x2="285.00" y2="253.40" stroke="#fff" stroke-width="1" />
<line x1="213.80" y1="271.30" x2="259.70" y2="279.70" stroke="#fff" stroke-width="1" />
<line x1="213.80" y1="293.20" x2="245.60" y2="298.40" stroke="#fff" stroke-width="1" />
<line x1="242.50" y1="321.50" x2="444.00" y2="321.50" stroke="#fff" stroke-width="1.2" />
<line x1="242.50" y1="329.30" x2="444.00" y2="329.30" stroke="#fff" stroke-width="1.2" />
<line x1="242.50" y1="321.50" x2="242.50" y2="329.30" stroke="#fff" stroke-width="1" />
<line x1="444.00" y1="321.50" x2="444.00" y2="329.30" stroke="#fff" stroke-width="1" />
<line x1="244" y1="325.3" x2="443" y2="325.3" stroke="#fff" stroke-width="1" stroke-dasharray="8,1.5,1,1.5"/>
<circle cx="253.50" cy="325.50" r="1.50" fill="#fff" stroke="#fff" stroke-width="1"/>
<rect x="215.00" y="323.00" width="24.00" height="5.00" fill="#fff"/>
<rect x="216.00" y="327.00" width="1.00" height="1.00" fill="#000"/>
<rect x="219.00" y="327.00" width="1.00" height="1.00" fill="#000"/>
<rect x="222.00" y="327.00" width="1.00" height="1.00" fill="#000"/>
<rect x="226.00" y="327.00" width="1.00" height="1.00" fill="#000"/>
<rect x="315.50" y="315.50" width="11.00" height="6.00" fill="#fff"/>
<rect x="315.50" y="329.00" width="11.00" height="6.00" fill="#fff"/>
<rect x="316.50" y="318.00" width="2.00" height="2.00" fill="#000"/>
<rect x="323.50" y="318.00" width="2.00" height="2.00" fill="#000"/>
<rect x="319.50" y="317.00" width="1.00" height="4.00" fill="#000"/>
<rect x="321.50" y="317.00" width="1.00" height="4.00" fill="#000"/>
<rect x="316.50" y="330.00" width="2.00" height="2.00" fill="#000"/>
<rect x="323.50" y="330.00" width="2.00" height="2.00" fill="#000"/>
<rect x="319.50" y="330.00" width="1.00" height="4.00" fill="#000"/>
<rect x="321.50" y="330.00" width="1.00" height="4.00" fill="#000"/>
<line x1="321.00" y1="321.50" x2="321.00" y2="329.30" stroke="#fff" stroke-width="1" />
<rect x="362.00" y="315.50" width="11.00" height="6.00" fill="#fff"/>
<rect x="362.00" y="329.00" width="11.00" height="6.00" fill="#fff"/>
<rect x="363.00" y="318.00" width="2.00" height="2.00" fill="#000"/>
<rect x="370.00" y="318.00" width="2.00" height="2.00" fill="#000"/>
<rect x="366.00" y="317.00" width="1.00" height="4.00" fill="#000"/>
<rect x="368.00" y="317.00" width="1.00" height="4.00" fill="#000"/>
<rect x="363.00" y="330.00" width="2.00" height="2.00" fill="#000"/>
<rect x="370.00" y="330.00" width="2.00" height="2.00" fill="#000"/>
<rect x="366.00" y="330.00" width="1.00" height="4.00" fill="#000"/>
<rect x="368.00" y="330.00" width="1.00" height="4.00" fill="#000"/>
<line x1="367.50" y1="321.50" x2="367.50" y2="329.30" stroke="#fff" stroke-width="1" />
<path d="M335,323.8 A8.8,11 0 0 0 352.6,323.8" fill="none" stroke="#fff" stroke-width="1"/>
<path d="M338,323.8 A6,8 0 0 0 350,323.8" fill="none" stroke="#fff" stroke-width="1"/>
<line x1="340.00" y1="331.00" x2="348.00" y2="325.00" stroke="#fff" stroke-width="1" />
<rect x="345" y="312" width="4" height="5" fill="#fff"/>
<path d="M347,313h1v1h-1zM346,316h1v1h-1z" fill="#000"/>
<polyline points="442.50,299.50 458.00,299.50 458.00,326.00 444.00,326.00" fill="none" stroke="#fff" stroke-width="1"/>
<line x1="442.50" y1="312.50" x2="458.00" y2="312.50" stroke="#fff" stroke-width="1" />
<rect x="454" y="304" width="3" height="4" fill="#fff"/>
<path d="M456,306h1v1h-1z" fill="#000"/>
<rect x="454" y="317" width="3" height="4" fill="#fff"/>
<path d="M456,319h1v1h-1z" fill="#000"/>
<rect x="455" y="226" width="9" height="5" fill="#fff"/>
<path d="M458,228h1v4h-1zM463,227h1v1h-1z" fill="#000"/>
<line x1="429.40" y1="278.40" x2="455.30" y2="228.80" stroke="#fff" stroke-width="1" />
<rect x="522" y="81" width="22" height="4" fill="#fff"/>
<path d="M525,81h1v4h-1zM528,81h1v3h-1zM533,81h1v3h-1zM536,83h1v3h-1zM539,82h1v3h-1zM523,84h1v1h-1zM542,81h1v1h-1zM534,83h1v1h-1zM531,82h1v1h-1zM538,82h1v1h-1z" fill="#000"/>
<line x1="521.00" y1="86.00" x2="544.00" y2="86.00" stroke="#fff" stroke-width="1" />
<rect x="528" y="87" width="10" height="4" fill="#fff"/>
<path d="M532,87h1v4h-1zM535,87h1v4h-1zM531,87h1v1h-1zM533,90h1v1h-1z" fill="#000"/>
<line x1="473.40" y1="97.50" x2="592.50" y2="97.50" stroke="#fff" stroke-width="1" />
<line x1="473.40" y1="97.50" x2="473.40" y2="121.00" stroke="#fff" stroke-width="1" />
<line x1="592.50" y1="97.50" x2="592.50" y2="121.00" stroke="#fff" stroke-width="1" />
<rect x="531" y="94" width="5" height="3" fill="#fff"/>
<line x1="482.30" y1="102.20" x2="583.50" y2="102.20" stroke="#fff" stroke-width="1" />
<line x1="482.30" y1="102.20" x2="482.30" y2="114.40" stroke="#fff" stroke-width="1" />
<line x1="583.50" y1="102.20" x2="583.50" y2="114.40" stroke="#fff" stroke-width="1" />
<rect x="531" y="99" width="5" height="3" fill="#fff"/>
<line x1="473.40" y1="113.40" x2="600.00" y2="113.40" stroke="#fff" stroke-width="1" />
<line x1="482.80" y1="114.60" x2="583.50" y2="114.60" stroke="#fff" stroke-width="1" />
<line x1="482.80" y1="113.40" x2="496.00" y2="169.70" stroke="#fff" stroke-width="1" />
<line x1="484.90" y1="113.40" x2="498.00" y2="169.70" stroke="#fff" stroke-width="1" />
<line x1="584.00" y1="113.40" x2="569.00" y2="169.70" stroke="#fff" stroke-width="1" />
<line x1="581.90" y1="113.40" x2="567.40" y2="169.70" stroke="#fff" stroke-width="1" />
<line x1="489.40" y1="128.40" x2="576.60" y2="128.40" stroke="#fff" stroke-width="1" />
<line x1="496.00" y1="170.30" x2="600.00" y2="170.30" stroke="#fff" stroke-width="1" />
<rect x="497.30" y="170.30" width="71.70" height="10.70" fill="none" stroke="#fff" stroke-width="1"/>
<line x1="533.40" y1="106.00" x2="533.40" y2="179.00" stroke="#fff" stroke-width="1" />
<line x1="533.4" y1="106" x2="533.4" y2="179" stroke="#000" stroke-width="0.6" stroke-dasharray="0,6,1,3"/>
<rect x="532" y="178" width="4" height="3" fill="#fff"/>
<path d="M534,178h1v1h-1z" fill="#000"/>
<line x1="509.00" y1="115.30" x2="509.00" y2="128.40" stroke="#fff" stroke-width="1" />
<rect x="506" y="118" width="2" height="4" fill="#fff"/>
<line x1="598.70" y1="114.40" x2="598.70" y2="170.60" stroke="#fff" stroke-width="1" />
<rect x="595" y="141" width="3" height="3" fill="#fff"/>
<line x1="478.00" y1="125.50" x2="490.00" y2="123.00" stroke="#fff" stroke-width="1" />
<line x1="487.00" y1="120.50" x2="489.00" y2="128.00" stroke="#fff" stroke-width="1" />
<line x1="487.00" y1="150.00" x2="500.00" y2="146.00" stroke="#fff" stroke-width="1" />
<line x1="492.00" y1="144.00" x2="493.00" y2="153.00" stroke="#fff" stroke-width="1" />
<line x1="512.00" y1="162.00" x2="512.00" y2="176.00" stroke="#fff" stroke-width="1" />
<rect x="511" y="162" width="2" height="4" fill="#fff"/>
<g transform="translate(553.5,144.8) rotate(45)" shape-rendering="crispEdges">
<rect x="-10.1" y="-10.1" width="20.2" height="20.2" fill="none" stroke="#fff" stroke-width="1"/>
<path d="M-10.10,-9.10H10.10M-9.10,-10.10V10.10M-10.10,-7.10H10.10M-7.10,-10.10V10.10M-10.10,-5.10H10.10M-5.10,-10.10V10.10M-10.10,-3.10H10.10M-3.10,-10.10V10.10M-10.10,-1.10H10.10M-1.10,-10.10V10.10M-10.10,0.90H10.10M0.90,-10.10V10.10M-10.10,2.90H10.10M2.90,-10.10V10.10M-10.10,4.90H10.10M4.90,-10.10V10.10M-10.10,6.90H10.10M6.90,-10.10V10.10M-10.10,8.90H10.10M8.90,-10.10V10.10" stroke="#fff" stroke-width="1"/>
</g>
<rect x="580.00" y="196.00" width="21.00" height="6.00" fill="#fff"/>
<rect x="583.00" y="198.00" width="1.00" height="1.00" fill="#000"/>
<rect x="587.00" y="197.00" width="1.00" height="1.00" fill="#000"/>
<rect x="590.00" y="200.00" width="1.00" height="1.00" fill="#000"/>
<rect x="593.00" y="200.00" width="1.00" height="1.00" fill="#000"/>
<rect x="596.00" y="200.00" width="1.00" height="1.00" fill="#000"/>
<rect x="598.00" y="200.00" width="1.00" height="1.00" fill="#000"/>
<rect x="585.00" y="200.00" width="1.00" height="1.00" fill="#000"/>
<circle cx="533.30" cy="251.80" r="50.40" fill="none" stroke="#fff" stroke-width="1.7"/>
<circle cx="533.30" cy="251.80" r="47.90" fill="none" stroke="#fff" stroke-width="1.7"/>
<circle cx="533.30" cy="251.80" r="36.30" fill="none" stroke="#fff" stroke-width="1.7"/>
<line x1="471.30" y1="252.00" x2="596.30" y2="252.00" stroke="#fff" stroke-width="1.3" />
<line x1="533.30" y1="190.00" x2="533.30" y2="312.50" stroke="#fff" stroke-width="1.5" />
<g transform="translate(548.5,235.0) rotate(45)" shape-rendering="crispEdges">
<rect x="-9.6" y="-9.6" width="19.2" height="19.2" fill="none" stroke="#fff" stroke-width="1"/>
<path d="M-9.60,-8.60H9.60M-8.60,-9.60V9.60M-9.60,-6.60H9.60M-6.60,-9.60V9.60M-9.60,-4.60H9.60M-4.60,-9.60V9.60M-9.60,-2.60H9.60M-2.60,-9.60V9.60M-9.60,-0.60H9.60M-0.60,-9.60V9.60M-9.60,1.40H9.60M1.40,-9.60V9.60M-9.60,3.40H9.60M3.40,-9.60V9.60M-9.60,5.40H9.60M5.40,-9.60V9.60M-9.60,7.40H9.60M7.40,-9.60V9.60M-9.60,9.40H9.60M9.40,-9.60V9.60" stroke="#fff" stroke-width="1"/>
</g>
<line x1="557.50" y1="225.00" x2="580.00" y2="202.00" stroke="#fff" stroke-width="1" />
<rect x="530" y="317" width="6" height="2" fill="#fff"/>
<path d="M533,317h1v2h-1z" fill="#000"/>
<line x1="528.00" y1="320.80" x2="540.00" y2="320.80" stroke="#fff" stroke-width="1" />
<rect x="531" y="322" width="9" height="3" fill="#fff"/>
<path d="M534,324h1v1h-1zM538,323h1v1h-1z" fill="#000"/>
<circle cx="533.50" cy="352.50" r="17.50" fill="none" stroke="#fff" stroke-width="1.2"/>
<circle cx="533.50" cy="352.50" r="13.00" fill="none" stroke="#fff" stroke-width="1.2"/>
<circle cx="533.5" cy="352.5" r="15.25" fill="none" stroke="#fff" stroke-width="3.5" stroke-dasharray="1.2,1.6" opacity="0.8"/>
<line x1="512.20" y1="352.50" x2="554.50" y2="352.50" stroke="#fff" stroke-width="1" />
<line x1="533.50" y1="331.50" x2="533.50" y2="366.00" stroke="#fff" stroke-width="1" />
<line x1="532.80" y1="366.00" x2="532.80" y2="380.20" stroke="#fff" stroke-width="1" />
<line x1="535.00" y1="366.00" x2="535.00" y2="380.20" stroke="#fff" stroke-width="1" />
<line x1="526.80" y1="379.50" x2="539.50" y2="379.50" stroke="#fff" stroke-width="1" />
<rect x="540" y="377" width="9" height="2" fill="#fff"/>
<path d="M543,378h1v1h-1zM543,377h1v1h-1z" fill="#000"/>
<rect x="483" y="388" width="8" height="3" fill="#fff"/>
<path d="M486,388h1v3h-1zM486,388h1v1h-1zM486,388h1v1h-1z" fill="#000"/>
<rect x="515" y="388" width="11" height="3" fill="#fff"/>
<path d="M518,388h1v3h-1zM521,388h1v2h-1zM515,388h1v1h-1zM519,388h1v1h-1zM523,389h1v1h-1z" fill="#000"/>
<rect x="551" y="388" width="4" height="3" fill="#fff"/>
<path d="M551,389h1v1h-1zM552,389h1v1h-1z" fill="#000"/>
<rect x="559" y="388" width="17" height="3" fill="#fff"/>
<path d="M563,388h1v3h-1zM566,388h1v2h-1zM570,388h1v3h-1zM573,388h1v3h-1zM573,389h1v1h-1zM574,390h1v1h-1zM563,390h1v1h-1zM575,389h1v1h-1zM566,389h1v1h-1zM563,389h1v1h-1zM570,390h1v1h-1zM566,389h1v1h-1zM559,389h1v1h-1z" fill="#000"/>
<rect x="579" y="388" width="6" height="3" fill="#fff"/>
<path d="M582,388h1v3h-1zM581,388h1v1h-1zM583,389h1v1h-1zM579,390h1v1h-1z" fill="#000"/>
<rect x="586" y="388" width="6" height="3" fill="#fff"/>
<path d="M589,388h1v3h-1zM591,389h1v1h-1zM590,389h1v1h-1zM591,388h1v1h-1z" fill="#000"/>
<rect x="483" y="394" width="8" height="3" fill="#fff"/>
<path d="M486,395h1v2h-1zM489,394h1v3h-1zM489,394h1v1h-1zM484,394h1v1h-1z" fill="#000"/>
<rect x="515" y="394" width="11" height="3" fill="#fff"/>
<path d="M519,394h1v3h-1zM522,394h1v3h-1zM521,396h1v1h-1zM520,396h1v1h-1zM521,395h1v1h-1z" fill="#000"/>
<rect x="551" y="394" width="4" height="3" fill="#fff"/>
<path d="M553,395h1v1h-1zM551,394h1v1h-1z" fill="#000"/>
<rect x="559" y="394" width="17" height="3" fill="#fff"/>
<path d="M563,394h1v2h-1zM567,394h1v3h-1zM571,395h1v2h-1zM574,395h1v2h-1zM563,394h1v1h-1zM561,394h1v1h-1zM563,395h1v1h-1zM573,394h1v1h-1zM569,395h1v1h-1zM569,395h1v1h-1zM572,396h1v1h-1zM574,395h1v1h-1zM569,395h1v1h-1z" fill="#000"/>
<rect x="579" y="394" width="6" height="3" fill="#fff"/>
<path d="M582,394h1v3h-1zM582,395h1v1h-1zM584,396h1v1h-1zM583,394h1v1h-1z" fill="#000"/>
<rect x="586" y="394" width="6" height="3" fill="#fff"/>
<path d="M589,394h1v3h-1zM589,395h1v1h-1zM590,395h1v1h-1zM591,396h1v1h-1z" fill="#000"/>
<rect x="483" y="399" width="8" height="3" fill="#fff"/>
<path d="M486,400h1v2h-1zM489,399h1v3h-1zM490,400h1v1h-1zM486,400h1v1h-1z" fill="#000"/>
<rect x="515" y="399" width="6" height="3" fill="#fff"/>
<path d="M518,399h1v2h-1zM518,400h1v1h-1zM518,400h1v1h-1z" fill="#000"/>
<rect x="551" y="399" width="4" height="3" fill="#fff"/>
<path d="M551,399h1v1h-1zM553,401h1v1h-1z" fill="#000"/>
<rect x="559" y="399" width="17" height="3" fill="#fff"/>
<path d="M563,399h1v1h-1zM567,399h1v2h-1zM571,399h1v2h-1zM559,400h1v1h-1zM571,401h1v1h-1zM564,399h1v1h-1zM569,400h1v1h-1zM569,400h1v1h-1zM566,399h1v1h-1zM573,399h1v1h-1zM566,399h1v1h-1zM566,400h1v1h-1z" fill="#000"/>
<rect x="586" y="399" width="6" height="3" fill="#fff"/>
<path d="M590,399h1v3h-1zM591,400h1v1h-1zM587,399h1v1h-1zM589,401h1v1h-1z" fill="#000"/>
<rect x="483" y="405" width="8" height="3" fill="#fff"/>
<path d="M487,407h1v1h-1zM488,405h1v1h-1zM484,405h1v1h-1z" fill="#000"/>
<rect x="515" y="405" width="8" height="3" fill="#fff"/>
<path d="M518,407h1v1h-1zM521,405h1v3h-1zM520,407h1v1h-1zM520,405h1v1h-1z" fill="#000"/>
<rect x="551" y="405" width="4" height="3" fill="#fff"/>
<path d="M554,405h1v1h-1zM554,405h1v1h-1z" fill="#000"/>
<rect x="559" y="405" width="17" height="3" fill="#fff"/>
<path d="M562,405h1v3h-1zM566,406h1v2h-1zM569,405h1v2h-1zM573,405h1v3h-1zM575,407h1v1h-1zM574,405h1v1h-1zM567,406h1v1h-1zM574,406h1v1h-1zM559,406h1v1h-1zM575,407h1v1h-1zM559,407h1v1h-1zM570,407h1v1h-1zM566,405h1v1h-1z" fill="#000"/>
<rect x="586" y="405" width="6" height="3" fill="#fff"/>
<path d="M589,405h1v2h-1zM588,407h1v1h-1zM588,406h1v1h-1zM589,405h1v1h-1z" fill="#000"/>
<rect x="483" y="411" width="8" height="3" fill="#fff"/>
<path d="M486,411h1v2h-1zM489,411h1v2h-1zM488,413h1v1h-1zM483,413h1v1h-1z" fill="#000"/>
<rect x="493" y="411" width="20" height="3" fill="#fff"/>
<path d="M496,411h1v2h-1zM500,411h1v3h-1zM505,411h1v2h-1zM510,411h1v3h-1zM504,411h1v1h-1zM504,411h1v1h-1zM507,413h1v1h-1zM506,413h1v1h-1zM508,413h1v1h-1zM502,411h1v1h-1zM506,411h1v1h-1z" fill="#000"/>
<rect x="515" y="411" width="18" height="3" fill="#fff"/>
<path d="M518,411h1v3h-1zM522,411h1v3h-1zM525,412h1v2h-1zM530,411h1v3h-1zM528,412h1v1h-1zM530,411h1v1h-1zM523,412h1v1h-1zM521,413h1v1h-1zM515,411h1v1h-1zM526,411h1v1h-1z" fill="#000"/>
<rect x="551" y="411" width="4" height="3" fill="#fff"/>
<path d="M552,411h1v1h-1zM553,412h1v1h-1z" fill="#000"/>
<rect x="559" y="411" width="17" height="3" fill="#fff"/>
<path d="M563,411h1v1h-1zM568,411h1v2h-1zM572,411h1v3h-1zM572,411h1v1h-1zM562,413h1v1h-1zM564,411h1v1h-1zM564,412h1v1h-1zM560,411h1v1h-1zM566,413h1v1h-1zM565,413h1v1h-1zM562,413h1v1h-1zM571,411h1v1h-1z" fill="#000"/>
<rect x="586" y="411" width="6" height="3" fill="#fff"/>
<path d="M590,411h1v3h-1zM591,412h1v1h-1zM591,411h1v1h-1zM586,412h1v1h-1z" fill="#000"/>
<rect x="483" y="417" width="8" height="3" fill="#fff"/>
<path d="M486,417h1v3h-1zM483,417h1v1h-1zM487,418h1v1h-1z" fill="#000"/>
<rect x="493" y="417" width="20" height="3" fill="#fff"/>
<path d="M497,418h1v2h-1zM501,417h1v1h-1zM506,417h1v3h-1zM511,417h1v3h-1zM495,419h1v1h-1zM511,417h1v1h-1zM505,418h1v1h-1zM496,419h1v1h-1zM504,419h1v1h-1zM506,417h1v1h-1zM511,418h1v1h-1z" fill="#000"/>
<rect x="515" y="417" width="29" height="3" fill="#fff"/>
<path d="M518,417h1v3h-1zM522,417h1v3h-1zM525,418h1v2h-1zM528,417h1v1h-1zM533,417h1v3h-1zM536,417h1v3h-1zM540,418h1v2h-1zM515,418h1v1h-1zM540,417h1v1h-1zM516,418h1v1h-1zM542,418h1v1h-1zM543,419h1v1h-1zM520,419h1v1h-1zM542,419h1v1h-1zM538,417h1v1h-1zM540,417h1v1h-1zM538,417h1v1h-1z" fill="#000"/>
<rect x="551" y="417" width="4" height="3" fill="#fff"/>
<path d="M553,419h1v1h-1zM554,417h1v1h-1z" fill="#000"/>
<rect x="559" y="417" width="17" height="3" fill="#fff"/>
<path d="M562,418h1v2h-1zM566,417h1v3h-1zM569,419h1v1h-1zM572,417h1v3h-1zM559,419h1v1h-1zM566,417h1v1h-1zM564,418h1v1h-1zM569,417h1v1h-1zM566,417h1v1h-1zM571,418h1v1h-1zM561,418h1v1h-1zM565,418h1v1h-1zM574,419h1v1h-1z" fill="#000"/>
<line x1="587.40" y1="421.80" x2="590.90" y2="418.20" stroke="#fff" stroke-width="1" />
<rect x="483" y="422" width="8" height="3" fill="#fff"/>
<path d="M486,422h1v3h-1zM489,423h1v1h-1zM487,423h1v1h-1z" fill="#000"/>
<rect x="493" y="422" width="20" height="3" fill="#fff"/>
<path d="M496,422h1v3h-1zM500,423h1v2h-1zM505,422h1v3h-1zM508,422h1v3h-1zM496,423h1v1h-1zM501,424h1v1h-1zM501,424h1v1h-1zM497,424h1v1h-1zM506,423h1v1h-1zM501,422h1v1h-1zM505,423h1v1h-1z" fill="#000"/>
<rect x="515" y="422" width="10" height="3" fill="#fff"/>
<path d="M518,422h1v2h-1zM522,422h1v3h-1zM520,424h1v1h-1zM517,422h1v1h-1zM517,423h1v1h-1z" fill="#000"/>
<rect x="551" y="422" width="4" height="3" fill="#fff"/>
<path d="M551,423h1v1h-1zM552,422h1v1h-1z" fill="#000"/>
<rect x="559" y="422" width="17" height="3" fill="#fff"/>
<path d="M562,423h1v2h-1zM565,422h1v3h-1zM569,422h1v1h-1zM572,422h1v3h-1zM561,422h1v1h-1zM568,424h1v1h-1zM565,424h1v1h-1zM568,422h1v1h-1zM568,422h1v1h-1zM573,422h1v1h-1zM561,423h1v1h-1zM561,422h1v1h-1zM564,424h1v1h-1z" fill="#000"/>
<line x1="587.40" y1="426.80" x2="590.90" y2="423.20" stroke="#fff" stroke-width="1" />
<rect x="483" y="428" width="8" height="3" fill="#fff"/>
<path d="M486,428h1v1h-1zM489,428h1v2h-1zM488,428h1v1h-1zM483,428h1v1h-1z" fill="#000"/>
<rect x="493" y="428" width="20" height="3" fill="#fff"/>
<path d="M497,429h1v2h-1zM501,428h1v3h-1zM506,428h1v3h-1zM510,428h1v3h-1zM495,430h1v1h-1zM505,430h1v1h-1zM505,429h1v1h-1zM505,430h1v1h-1zM505,428h1v1h-1zM493,430h1v1h-1zM501,430h1v1h-1z" fill="#000"/>
<rect x="515" y="428" width="15" height="3" fill="#fff"/>
<path d="M518,428h1v1h-1zM522,428h1v3h-1zM527,428h1v2h-1zM528,428h1v1h-1zM527,430h1v1h-1zM520,430h1v1h-1zM521,429h1v1h-1zM528,429h1v1h-1z" fill="#000"/>
<rect x="551" y="428" width="4" height="3" fill="#fff"/>
<path d="M552,428h1v1h-1zM553,430h1v1h-1z" fill="#000"/>
<rect x="559" y="428" width="17" height="3" fill="#fff"/>
<path d="M562,428h1v3h-1zM566,428h1v3h-1zM571,428h1v2h-1zM562,430h1v1h-1zM563,430h1v1h-1zM571,430h1v1h-1zM561,429h1v1h-1zM563,429h1v1h-1zM563,428h1v1h-1zM562,429h1v1h-1zM567,428h1v1h-1zM572,430h1v1h-1z" fill="#000"/>
<line x1="587.40" y1="432.80" x2="590.90" y2="429.20" stroke="#fff" stroke-width="1" />
<rect x="483" y="434" width="8" height="3" fill="#fff"/>
<path d="M487,434h1v2h-1zM488,436h1v1h-1zM485,436h1v1h-1z" fill="#000"/>
<rect x="493" y="434" width="20" height="3" fill="#fff"/>
<path d="M496,436h1v1h-1zM501,434h1v3h-1zM505,434h1v3h-1zM508,434h1v3h-1zM511,434h1v3h-1zM498,436h1v1h-1zM501,435h1v1h-1zM501,435h1v1h-1zM502,434h1v1h-1zM508,435h1v1h-1zM499,434h1v1h-1zM498,435h1v1h-1z" fill="#000"/>
<rect x="515" y="434" width="28" height="3" fill="#fff"/>
<path d="M518,434h1v3h-1zM522,434h1v3h-1zM527,434h1v3h-1zM530,434h1v3h-1zM534,434h1v3h-1zM537,435h1v2h-1zM540,434h1v3h-1zM521,436h1v1h-1zM516,435h1v1h-1zM518,436h1v1h-1zM538,435h1v1h-1zM525,434h1v1h-1zM525,436h1v1h-1zM516,434h1v1h-1zM540,434h1v1h-1zM518,436h1v1h-1zM539,435h1v1h-1z" fill="#000"/>
<rect x="551" y="434" width="4" height="3" fill="#fff"/>
<path d="M554,436h1v1h-1zM552,434h1v1h-1z" fill="#000"/>
<rect x="559" y="434" width="17" height="3" fill="#fff"/>
<path d="M563,436h1v1h-1zM568,435h1v2h-1zM572,436h1v1h-1zM564,436h1v1h-1zM560,435h1v1h-1zM568,435h1v1h-1zM560,435h1v1h-1zM562,436h1v1h-1zM575,436h1v1h-1zM567,434h1v1h-1zM570,434h1v1h-1zM563,436h1v1h-1z" fill="#000"/>
<rect x="579" y="434" width="6" height="3" fill="#fff"/>
<path d="M582,434h1v1h-1zM581,435h1v1h-1zM582,436h1v1h-1zM582,435h1v1h-1z" fill="#000"/>
<rect x="586" y="434" width="6" height="3" fill="#fff"/>
<path d="M589,434h1v3h-1zM587,436h1v1h-1zM588,435h1v1h-1zM586,434h1v1h-1z" fill="#000"/>
<rect x="483" y="440" width="8" height="3" fill="#fff"/>
<path d="M487,440h1v3h-1zM485,441h1v1h-1zM488,440h1v1h-1z" fill="#000"/>
<rect x="493" y="440" width="20" height="3" fill="#fff"/>
<path d="M497,440h1v3h-1zM500,440h1v3h-1zM505,440h1v3h-1zM508,440h1v3h-1zM494,442h1v1h-1zM497,442h1v1h-1zM511,442h1v1h-1zM496,442h1v1h-1zM511,442h1v1h-1zM505,442h1v1h-1zM503,440h1v1h-1z" fill="#000"/>
<rect x="515" y="440" width="18" height="3" fill="#fff"/>
<path d="M518,440h1v3h-1zM522,441h1v2h-1zM526,440h1v2h-1zM531,440h1v3h-1zM526,442h1v1h-1zM515,440h1v1h-1zM528,442h1v1h-1zM519,440h1v1h-1zM522,442h1v1h-1zM522,442h1v1h-1z" fill="#000"/>
<rect x="551" y="440" width="4" height="3" fill="#fff"/>
<path d="M551,441h1v1h-1zM552,441h1v1h-1z" fill="#000"/>
<rect x="559" y="440" width="17" height="3" fill="#fff"/>
<path d="M562,440h1v1h-1zM565,441h1v2h-1zM569,440h1v3h-1zM573,441h1v2h-1zM568,441h1v1h-1zM570,441h1v1h-1zM560,442h1v1h-1zM569,442h1v1h-1zM567,440h1v1h-1zM567,440h1v1h-1zM570,441h1v1h-1zM565,441h1v1h-1zM562,440h1v1h-1z" fill="#000"/>
<rect x="579" y="440" width="6" height="3" fill="#fff"/>
<path d="M582,440h1v3h-1zM584,440h1v1h-1zM582,440h1v1h-1zM581,440h1v1h-1z" fill="#000"/>
<rect x="586" y="440" width="6" height="3" fill="#fff"/>
<path d="M589,440h1v3h-1zM589,441h1v1h-1zM589,440h1v1h-1zM588,442h1v1h-1z" fill="#000"/>
<rect x="483" y="446" width="8" height="3" fill="#fff"/>
<path d="M486,447h1v1h-1zM490,448h1v1h-1zM487,447h1v1h-1z" fill="#000"/>
<rect x="493" y="446" width="20" height="3" fill="#fff"/>
<path d="M497,446h1v2h-1zM500,446h1v3h-1zM504,446h1v3h-1zM507,447h1v2h-1zM510,446h1v3h-1zM493,448h1v1h-1zM496,446h1v1h-1zM498,447h1v1h-1zM510,448h1v1h-1zM498,446h1v1h-1zM501,447h1v1h-1zM497,446h1v1h-1z" fill="#000"/>
<rect x="515" y="446" width="20" height="3" fill="#fff"/>
<path d="M518,446h1v3h-1zM522,447h1v2h-1zM527,446h1v3h-1zM531,447h1v2h-1zM534,448h1v1h-1zM533,446h1v1h-1zM529,447h1v1h-1zM524,448h1v1h-1zM519,446h1v1h-1zM528,448h1v1h-1zM525,447h1v1h-1z" fill="#000"/>
<rect x="551" y="446" width="4" height="3" fill="#fff"/>
<path d="M553,446h1v1h-1zM553,448h1v1h-1z" fill="#000"/>
<rect x="559" y="446" width="17" height="3" fill="#fff"/>
<path d="M562,446h1v3h-1zM565,446h1v3h-1zM569,446h1v3h-1zM572,446h1v3h-1zM571,448h1v1h-1zM574,446h1v1h-1zM570,448h1v1h-1zM561,446h1v1h-1zM567,446h1v1h-1zM573,447h1v1h-1zM563,447h1v1h-1zM567,448h1v1h-1zM572,446h1v1h-1z" fill="#000"/>
<rect x="586" y="446" width="6" height="3" fill="#fff"/>
<path d="M589,446h1v2h-1zM586,447h1v1h-1zM589,446h1v1h-1zM590,448h1v1h-1z" fill="#000"/>
<rect x="483" y="451" width="8" height="3" fill="#fff"/>
<path d="M486,451h1v3h-1zM484,452h1v1h-1zM486,452h1v1h-1z" fill="#000"/>
<rect x="493" y="451" width="20" height="3" fill="#fff"/>
<path d="M496,451h1v3h-1zM499,452h1v2h-1zM504,451h1v3h-1zM509,451h1v3h-1zM501,452h1v1h-1zM493,453h1v1h-1zM494,451h1v1h-1zM507,452h1v1h-1zM503,453h1v1h-1zM500,452h1v1h-1zM500,452h1v1h-1z" fill="#000"/>
<rect x="515" y="451" width="13" height="3" fill="#fff"/>
<path d="M518,452h1v2h-1zM522,451h1v3h-1zM516,451h1v1h-1zM520,452h1v1h-1zM517,453h1v1h-1zM525,453h1v1h-1z" fill="#000"/>
<rect x="551" y="451" width="4" height="3" fill="#fff"/>
<path d="M551,453h1v1h-1zM551,452h1v1h-1z" fill="#000"/>
<rect x="559" y="451" width="17" height="3" fill="#fff"/>
<path d="M563,453h1v1h-1zM567,451h1v2h-1zM571,451h1v2h-1zM571,453h1v1h-1zM573,452h1v1h-1zM575,451h1v1h-1zM571,451h1v1h-1zM562,453h1v1h-1zM568,451h1v1h-1zM575,451h1v1h-1zM566,452h1v1h-1zM572,452h1v1h-1z" fill="#000"/>
<rect x="586" y="451" width="6" height="3" fill="#fff"/>
<path d="M590,452h1v1h-1zM586,453h1v1h-1zM589,451h1v1h-1zM591,453h1v1h-1z" fill="#000"/>
<rect x="483" y="457" width="8" height="3" fill="#fff"/>
<path d="M487,459h1v1h-1zM486,457h1v1h-1zM490,457h1v1h-1z" fill="#000"/>
<rect x="515" y="457" width="15" height="3" fill="#fff"/>
<path d="M519,459h1v1h-1zM523,457h1v2h-1zM527,457h1v1h-1zM526,459h1v1h-1zM515,458h1v1h-1zM528,459h1v1h-1zM520,458h1v1h-1zM523,459h1v1h-1z" fill="#000"/>
<rect x="551" y="457" width="4" height="3" fill="#fff"/>
<path d="M551,458h1v1h-1zM552,458h1v1h-1z" fill="#000"/>
<rect x="559" y="457" width="17" height="3" fill="#fff"/>
<path d="M562,458h1v2h-1zM566,457h1v3h-1zM570,457h1v3h-1zM561,458h1v1h-1zM563,458h1v1h-1zM575,458h1v1h-1zM566,458h1v1h-1zM563,457h1v1h-1zM570,457h1v1h-1zM574,457h1v1h-1zM575,458h1v1h-1zM566,457h1v1h-1z" fill="#000"/>
<rect x="579" y="457" width="6" height="3" fill="#fff"/>
<path d="M582,457h1v3h-1zM584,459h1v1h-1zM580,459h1v1h-1zM583,459h1v1h-1z" fill="#000"/>
<rect x="586" y="457" width="6" height="3" fill="#fff"/>
<path d="M589,457h1v1h-1zM587,458h1v1h-1zM589,459h1v1h-1zM588,458h1v1h-1z" fill="#000"/>
<rect x="483" y="463" width="8" height="3" fill="#fff"/>
<path d="M486,463h1v2h-1zM483,463h1v1h-1zM487,464h1v1h-1z" fill="#000"/>
<rect x="493" y="463" width="20" height="3" fill="#fff"/>
<path d="M497,463h1v3h-1zM501,463h1v3h-1zM505,463h1v3h-1zM509,463h1v3h-1zM503,463h1v1h-1zM500,464h1v1h-1zM510,464h1v1h-1zM504,464h1v1h-1zM510,464h1v1h-1zM509,464h1v1h-1zM501,465h1v1h-1z" fill="#000"/>
<rect x="515" y="463" width="20" height="3" fill="#fff"/>
<path d="M518,463h1v2h-1zM521,464h1v2h-1zM525,463h1v3h-1zM529,465h1v1h-1zM533,463h1v3h-1zM530,463h1v1h-1zM519,464h1v1h-1zM528,465h1v1h-1zM522,463h1v1h-1zM532,465h1v1h-1zM529,463h1v1h-1zM528,464h1v1h-1z" fill="#000"/>
<rect x="551" y="463" width="4" height="3" fill="#fff"/>
<path d="M551,465h1v1h-1zM552,463h1v1h-1z" fill="#000"/>
<rect x="559" y="463" width="17" height="3" fill="#fff"/>
<path d="M562,464h1v2h-1zM566,464h1v1h-1zM569,463h1v3h-1zM574,463h1v3h-1zM569,463h1v1h-1zM565,465h1v1h-1zM568,464h1v1h-1zM570,463h1v1h-1zM565,463h1v1h-1zM573,464h1v1h-1zM559,464h1v1h-1zM561,464h1v1h-1zM561,465h1v1h-1z" fill="#000"/>
<rect x="579" y="463" width="6" height="3" fill="#fff"/>
<path d="M582,464h1v1h-1zM579,464h1v1h-1zM579,464h1v1h-1zM584,465h1v1h-1z" fill="#000"/>
<rect x="586" y="463" width="6" height="3" fill="#fff"/>
<path d="M589,464h1v2h-1zM589,465h1v1h-1zM589,463h1v1h-1zM590,463h1v1h-1z" fill="#000"/>
<rect x="483" y="469" width="8" height="3" fill="#fff"/>
<path d="M487,469h1v2h-1zM490,471h1v1h-1zM487,469h1v1h-1z" fill="#000"/>
<rect x="493" y="469" width="20" height="3" fill="#fff"/>
<path d="M497,469h1v3h-1zM501,469h1v3h-1zM504,469h1v3h-1zM508,469h1v2h-1zM511,469h1v3h-1zM511,469h1v1h-1zM504,471h1v1h-1zM495,471h1v1h-1zM502,469h1v1h-1zM501,471h1v1h-1zM494,471h1v1h-1zM493,469h1v1h-1z" fill="#000"/>
<rect x="515" y="469" width="29" height="3" fill="#fff"/>
<path d="M518,469h1v3h-1zM523,469h1v1h-1zM526,470h1v2h-1zM530,469h1v3h-1zM534,469h1v3h-1zM538,471h1v1h-1zM540,470h1v1h-1zM521,469h1v1h-1zM525,470h1v1h-1zM521,471h1v1h-1zM517,471h1v1h-1zM539,470h1v1h-1zM517,471h1v1h-1zM531,470h1v1h-1zM543,470h1v1h-1zM516,470h1v1h-1z" fill="#000"/>
<rect x="551" y="469" width="4" height="3" fill="#fff"/>
<path d="M554,470h1v1h-1zM553,469h1v1h-1z" fill="#000"/>
<rect x="559" y="469" width="17" height="3" fill="#fff"/>
<path d="M563,471h1v1h-1zM567,469h1v3h-1zM570,470h1v2h-1zM574,469h1v3h-1zM573,469h1v1h-1zM568,469h1v1h-1zM572,469h1v1h-1zM571,471h1v1h-1zM561,471h1v1h-1zM564,471h1v1h-1zM574,470h1v1h-1zM570,469h1v1h-1zM568,470h1v1h-1z" fill="#000"/>
<line x1="587.40" y1="473.80" x2="590.90" y2="470.20" stroke="#fff" stroke-width="1" />
<rect x="483" y="475" width="8" height="3" fill="#fff"/>
<path d="M487,475h1v3h-1zM484,475h1v1h-1zM484,477h1v1h-1z" fill="#000"/>
<rect x="493" y="475" width="20" height="3" fill="#fff"/>
<path d="M496,476h1v2h-1zM499,475h1v3h-1zM503,476h1v2h-1zM508,475h1v3h-1zM511,475h1v3h-1zM494,477h1v1h-1zM496,475h1v1h-1zM500,475h1v1h-1zM502,475h1v1h-1zM493,475h1v1h-1zM495,475h1v1h-1zM500,477h1v1h-1z" fill="#000"/>
<rect x="515" y="475" width="10" height="3" fill="#fff"/>
<path d="M518,476h1v2h-1zM521,475h1v2h-1zM522,477h1v1h-1zM519,476h1v1h-1zM515,477h1v1h-1z" fill="#000"/>
<rect x="551" y="475" width="4" height="3" fill="#fff"/>
<path d="M552,477h1v1h-1zM552,477h1v1h-1z" fill="#000"/>
<rect x="559" y="475" width="17" height="3" fill="#fff"/>
<path d="M562,476h1v1h-1zM567,475h1v3h-1zM571,475h1v3h-1zM574,475h1v1h-1zM569,476h1v1h-1zM568,475h1v1h-1zM568,476h1v1h-1zM561,477h1v1h-1zM568,477h1v1h-1zM569,475h1v1h-1zM560,476h1v1h-1zM570,477h1v1h-1zM565,477h1v1h-1z" fill="#000"/>
<line x1="587.40" y1="479.80" x2="590.90" y2="476.20" stroke="#fff" stroke-width="1" />
<rect x="483" y="480" width="8" height="3" fill="#fff"/>
<path d="M486,480h1v3h-1zM489,481h1v1h-1zM483,480h1v1h-1z" fill="#000"/>
<rect x="493" y="480" width="20" height="3" fill="#fff"/>
<path d="M497,481h1v2h-1zM501,480h1v3h-1zM504,481h1v2h-1zM508,480h1v3h-1zM504,482h1v1h-1zM500,481h1v1h-1zM511,480h1v1h-1zM498,480h1v1h-1zM498,480h1v1h-1zM495,480h1v1h-1zM507,480h1v1h-1z" fill="#000"/>
<rect x="515" y="480" width="15" height="3" fill="#fff"/>
<path d="M518,480h1v3h-1zM521,480h1v3h-1zM524,480h1v3h-1zM527,480h1v1h-1zM518,482h1v1h-1zM526,480h1v1h-1zM526,482h1v1h-1zM525,482h1v1h-1z" fill="#000"/>
<rect x="551" y="480" width="4" height="3" fill="#fff"/>
<path d="M554,480h1v1h-1zM554,481h1v1h-1z" fill="#000"/>
<rect x="559" y="480" width="17" height="3" fill="#fff"/>
<path d="M563,480h1v3h-1zM567,481h1v2h-1zM571,480h1v3h-1zM561,480h1v1h-1zM573,481h1v1h-1zM566,481h1v1h-1zM575,481h1v1h-1zM572,481h1v1h-1zM575,481h1v1h-1zM575,482h1v1h-1zM559,480h1v1h-1zM575,481h1v1h-1z" fill="#000"/>
<line x1="587.40" y1="484.80" x2="590.90" y2="481.20" stroke="#fff" stroke-width="1" />
<rect x="483" y="486" width="8" height="3" fill="#fff"/>
<path d="M487,486h1v2h-1zM490,488h1v1h-1zM483,488h1v1h-1z" fill="#000"/>
<rect x="493" y="486" width="20" height="3" fill="#fff"/>
<path d="M496,486h1v3h-1zM500,486h1v3h-1zM504,486h1v2h-1zM509,486h1v3h-1zM508,487h1v1h-1zM512,488h1v1h-1zM506,487h1v1h-1zM497,488h1v1h-1zM505,487h1v1h-1zM499,488h1v1h-1zM510,486h1v1h-1z" fill="#000"/>
<rect x="515" y="486" width="26" height="3" fill="#fff"/>
<path d="M519,486h1v3h-1zM524,487h1v2h-1zM528,486h1v2h-1zM531,486h1v3h-1zM534,486h1v3h-1zM537,486h1v3h-1zM531,488h1v1h-1zM525,486h1v1h-1zM519,488h1v1h-1zM519,488h1v1h-1zM540,487h1v1h-1zM519,486h1v1h-1zM531,488h1v1h-1zM517,486h1v1h-1zM524,487h1v1h-1z" fill="#000"/>
<rect x="551" y="486" width="4" height="3" fill="#fff"/>
<path d="M551,488h1v1h-1zM554,486h1v1h-1z" fill="#000"/>
<rect x="559" y="486" width="17" height="3" fill="#fff"/>
<path d="M563,486h1v2h-1zM566,488h1v1h-1zM570,486h1v1h-1zM574,486h1v3h-1zM574,486h1v1h-1zM570,488h1v1h-1zM571,487h1v1h-1zM573,487h1v1h-1zM562,487h1v1h-1zM566,487h1v1h-1zM575,487h1v1h-1zM559,486h1v1h-1zM561,488h1v1h-1z" fill="#000"/>
<rect x="579" y="486" width="6" height="3" fill="#fff"/>
<path d="M582,486h1v3h-1zM579,488h1v1h-1zM580,487h1v1h-1zM582,487h1v1h-1z" fill="#000"/>
<rect x="586" y="486" width="6" height="3" fill="#fff"/>
<path d="M590,486h1v3h-1zM590,487h1v1h-1zM587,486h1v1h-1zM588,488h1v1h-1z" fill="#000"/>
<rect x="483" y="492" width="8" height="3" fill="#fff"/>
<path d="M486,492h1v3h-1zM484,493h1v1h-1zM490,493h1v1h-1z" fill="#000"/>
<rect x="515" y="492" width="10" height="3" fill="#fff"/>
<path d="M519,492h1v3h-1zM523,493h1v2h-1zM520,492h1v1h-1zM523,494h1v1h-1zM521,492h1v1h-1z" fill="#000"/>
<rect x="551" y="492" width="4" height="3" fill="#fff"/>
<path d="M551,493h1v1h-1zM553,493h1v1h-1z" fill="#000"/>
<rect x="559" y="492" width="17" height="3" fill="#fff"/>
<path d="M562,492h1v3h-1zM565,492h1v3h-1zM569,492h1v3h-1zM573,492h1v2h-1zM561,493h1v1h-1zM563,493h1v1h-1zM567,494h1v1h-1zM560,494h1v1h-1zM568,492h1v1h-1zM570,492h1v1h-1zM569,492h1v1h-1zM559,494h1v1h-1zM573,492h1v1h-1z" fill="#000"/>
<rect x="586" y="492" width="6" height="3" fill="#fff"/>
<path d="M590,492h1v2h-1zM587,494h1v1h-1zM591,493h1v1h-1zM587,494h1v1h-1z" fill="#000"/>
<rect x="483" y="498" width="8" height="3" fill="#fff"/>
<path d="M486,498h1v3h-1zM489,500h1v1h-1zM485,500h1v1h-1z" fill="#000"/>
<rect x="493" y="498" width="20" height="3" fill="#fff"/>
<path d="M496,499h1v1h-1zM500,499h1v1h-1zM504,499h1v2h-1zM508,498h1v3h-1zM511,499h1v1h-1zM509,499h1v1h-1zM500,499h1v1h-1zM500,499h1v1h-1zM506,500h1v1h-1zM503,500h1v1h-1zM506,499h1v1h-1zM509,498h1v1h-1z" fill="#000"/>
<rect x="515" y="498" width="18" height="3" fill="#fff"/>
<path d="M518,499h1v1h-1zM523,499h1v2h-1zM526,498h1v3h-1zM530,498h1v2h-1zM524,500h1v1h-1zM519,498h1v1h-1zM523,499h1v1h-1zM527,499h1v1h-1zM518,498h1v1h-1zM523,500h1v1h-1z" fill="#000"/>
<rect x="551" y="498" width="4" height="3" fill="#fff"/>
<path d="M551,499h1v1h-1zM553,500h1v1h-1z" fill="#000"/>
<rect x="559" y="498" width="17" height="3" fill="#fff"/>
<path d="M563,499h1v2h-1zM567,498h1v3h-1zM571,498h1v3h-1zM574,499h1v2h-1zM561,499h1v1h-1zM566,498h1v1h-1zM565,498h1v1h-1zM564,499h1v1h-1zM572,500h1v1h-1zM564,499h1v1h-1zM574,499h1v1h-1zM562,498h1v1h-1zM567,498h1v1h-1z" fill="#000"/>
<rect x="579" y="498" width="6" height="3" fill="#fff"/>
<path d="M582,498h1v3h-1zM583,500h1v1h-1zM579,499h1v1h-1zM579,499h1v1h-1z" fill="#000"/>
<rect x="586" y="498" width="6" height="3" fill="#fff"/>
<path d="M589,498h1v3h-1zM589,498h1v1h-1zM586,500h1v1h-1zM590,500h1v1h-1z" fill="#000"/>
<rect x="483" y="503" width="8" height="3" fill="#fff"/>
<path d="M486,503h1v3h-1zM489,503h1v3h-1zM489,505h1v1h-1zM485,503h1v1h-1z" fill="#000"/>
<rect x="493" y="503" width="20" height="3" fill="#fff"/>
<path d="M496,504h1v2h-1zM500,503h1v1h-1zM504,503h1v3h-1zM509,503h1v2h-1zM494,503h1v1h-1zM501,503h1v1h-1zM494,503h1v1h-1zM495,505h1v1h-1zM510,505h1v1h-1zM493,504h1v1h-1zM497,505h1v1h-1z" fill="#000"/>
<rect x="515" y="503" width="18" height="3" fill="#fff"/>
<path d="M518,504h1v2h-1zM522,503h1v3h-1zM526,503h1v3h-1zM531,503h1v3h-1zM518,505h1v1h-1zM527,504h1v1h-1zM527,505h1v1h-1zM518,505h1v1h-1zM527,503h1v1h-1zM525,505h1v1h-1z" fill="#000"/>
<rect x="551" y="503" width="4" height="3" fill="#fff"/>
<path d="M553,504h1v1h-1zM552,504h1v1h-1z" fill="#000"/>
<rect x="559" y="503" width="17" height="3" fill="#fff"/>
<path d="M563,503h1v2h-1zM566,503h1v2h-1zM570,504h1v2h-1zM562,505h1v1h-1zM566,505h1v1h-1zM573,503h1v1h-1zM564,504h1v1h-1zM564,505h1v1h-1zM562,505h1v1h-1zM574,503h1v1h-1zM574,504h1v1h-1zM572,503h1v1h-1z" fill="#000"/>
<rect x="579" y="503" width="6" height="3" fill="#fff"/>
<path d="M582,503h1v3h-1zM580,503h1v1h-1zM584,503h1v1h-1zM579,504h1v1h-1z" fill="#000"/>
<rect x="586" y="503" width="6" height="3" fill="#fff"/>
<path d="M589,504h1v2h-1zM590,504h1v1h-1zM590,504h1v1h-1zM586,504h1v1h-1z" fill="#000"/>
<rect x="483" y="509" width="8" height="3" fill="#fff"/>
<path d="M487,509h1v3h-1zM484,510h1v1h-1zM487,511h1v1h-1z" fill="#000"/>
<rect x="493" y="509" width="20" height="3" fill="#fff"/>
<path d="M497,509h1v2h-1zM501,510h1v2h-1zM505,509h1v2h-1zM508,509h1v3h-1zM511,509h1v1h-1zM503,509h1v1h-1zM504,509h1v1h-1zM496,509h1v1h-1zM509,509h1v1h-1zM499,511h1v1h-1zM511,510h1v1h-1zM510,510h1v1h-1z" fill="#000"/>
<rect x="515" y="509" width="18" height="3" fill="#fff"/>
<path d="M519,510h1v2h-1zM523,509h1v3h-1zM526,509h1v2h-1zM529,509h1v3h-1zM519,510h1v1h-1zM524,510h1v1h-1zM529,510h1v1h-1zM523,509h1v1h-1zM530,510h1v1h-1zM520,510h1v1h-1z" fill="#000"/>
<rect x="551" y="509" width="4" height="3" fill="#fff"/>
<path d="M554,511h1v1h-1zM554,509h1v1h-1z" fill="#000"/>
<rect x="559" y="509" width="17" height="3" fill="#fff"/>
<path d="M562,509h1v3h-1zM566,509h1v3h-1zM571,509h1v3h-1zM560,509h1v1h-1zM569,510h1v1h-1zM567,511h1v1h-1zM562,511h1v1h-1zM568,511h1v1h-1zM570,511h1v1h-1zM570,511h1v1h-1zM573,511h1v1h-1zM566,509h1v1h-1z" fill="#000"/>
<rect x="579" y="509" width="6" height="3" fill="#fff"/>
<path d="M583,509h1v3h-1zM581,511h1v1h-1zM579,510h1v1h-1zM581,511h1v1h-1z" fill="#000"/>
<rect x="586" y="509" width="6" height="3" fill="#fff"/>
<path d="M590,509h1v3h-1zM591,511h1v1h-1zM591,509h1v1h-1zM588,511h1v1h-1z" fill="#000"/>
<rect x="483" y="515" width="8" height="3" fill="#fff"/>
<path d="M487,516h1v2h-1zM489,515h1v1h-1zM487,517h1v1h-1z" fill="#000"/>
<rect x="493" y="515" width="20" height="3" fill="#fff"/>
<path d="M497,515h1v3h-1zM502,516h1v2h-1zM505,515h1v3h-1zM509,515h1v3h-1zM511,515h1v1h-1zM498,517h1v1h-1zM503,517h1v1h-1zM505,517h1v1h-1zM496,515h1v1h-1zM493,515h1v1h-1zM509,515h1v1h-1z" fill="#000"/>
<rect x="515" y="515" width="18" height="3" fill="#fff"/>
<path d="M518,516h1v1h-1zM522,515h1v2h-1zM526,516h1v2h-1zM530,515h1v3h-1zM527,516h1v1h-1zM528,515h1v1h-1zM523,516h1v1h-1zM519,516h1v1h-1zM531,515h1v1h-1zM531,516h1v1h-1z" fill="#000"/>
<rect x="551" y="515" width="4" height="3" fill="#fff"/>
<path d="M551,515h1v1h-1zM551,515h1v1h-1z" fill="#000"/>
<rect x="559" y="515" width="17" height="3" fill="#fff"/>
<path d="M562,515h1v3h-1zM565,515h1v2h-1zM568,515h1v3h-1zM571,515h1v2h-1zM575,516h1v1h-1zM561,517h1v1h-1zM570,516h1v1h-1zM562,516h1v1h-1zM572,516h1v1h-1zM572,516h1v1h-1zM566,517h1v1h-1zM563,516h1v1h-1zM571,516h1v1h-1z" fill="#000"/>
<rect x="579" y="515" width="6" height="3" fill="#fff"/>
<path d="M583,516h1v2h-1zM582,515h1v1h-1zM579,515h1v1h-1zM580,517h1v1h-1z" fill="#000"/>
<rect x="586" y="515" width="6" height="3" fill="#fff"/>
<path d="M589,515h1v2h-1zM587,517h1v1h-1zM590,515h1v1h-1zM587,515h1v1h-1z" fill="#000"/>
<rect x="483" y="521" width="8" height="3" fill="#fff"/>
<path d="M487,521h1v3h-1zM488,523h1v1h-1zM490,522h1v1h-1z" fill="#000"/>
<rect x="493" y="521" width="20" height="3" fill="#fff"/>
<path d="M496,521h1v1h-1zM501,522h1v2h-1zM504,521h1v3h-1zM508,523h1v1h-1zM496,523h1v1h-1zM501,523h1v1h-1zM511,521h1v1h-1zM500,523h1v1h-1zM509,521h1v1h-1zM495,523h1v1h-1zM500,523h1v1h-1z" fill="#000"/>
<rect x="515" y="521" width="18" height="3" fill="#fff"/>
<path d="M518,521h1v2h-1zM522,521h1v1h-1zM526,521h1v3h-1zM530,521h1v3h-1zM529,521h1v1h-1zM528,522h1v1h-1zM525,523h1v1h-1zM523,521h1v1h-1zM519,521h1v1h-1zM519,522h1v1h-1z" fill="#000"/>
<rect x="551" y="521" width="4" height="3" fill="#fff"/>
<path d="M554,522h1v1h-1zM551,522h1v1h-1z" fill="#000"/>
<rect x="559" y="521" width="17" height="3" fill="#fff"/>
<path d="M563,521h1v3h-1zM567,522h1v2h-1zM571,521h1v3h-1zM574,521h1v3h-1zM564,523h1v1h-1zM562,522h1v1h-1zM569,521h1v1h-1zM559,522h1v1h-1zM560,521h1v1h-1zM574,522h1v1h-1zM573,522h1v1h-1zM563,523h1v1h-1zM568,522h1v1h-1z" fill="#000"/>
<rect x="579" y="521" width="6" height="3" fill="#fff"/>
<path d="M582,521h1v3h-1zM581,523h1v1h-1zM583,522h1v1h-1zM584,521h1v1h-1z" fill="#000"/>
<rect x="586" y="521" width="6" height="3" fill="#fff"/>
<path d="M589,522h1v2h-1zM590,521h1v1h-1zM588,523h1v1h-1zM587,523h1v1h-1z" fill="#000"/>
<rect x="483" y="527" width="8" height="3" fill="#fff"/>
<path d="M486,527h1v3h-1zM483,527h1v1h-1zM487,528h1v1h-1z" fill="#000"/>
<rect x="493" y="527" width="20" height="3" fill="#fff"/>
<path d="M497,527h1v3h-1zM502,527h1v3h-1zM506,529h1v1h-1zM511,529h1v1h-1zM498,528h1v1h-1zM499,527h1v1h-1zM501,529h1v1h-1zM509,527h1v1h-1zM500,528h1v1h-1zM498,528h1v1h-1zM502,527h1v1h-1z" fill="#000"/>
<rect x="515" y="527" width="18" height="3" fill="#fff"/>
<path d="M519,527h1v3h-1zM523,527h1v3h-1zM527,527h1v3h-1zM530,527h1v3h-1zM528,528h1v1h-1zM519,527h1v1h-1zM515,527h1v1h-1zM520,529h1v1h-1zM524,527h1v1h-1zM530,528h1v1h-1z" fill="#000"/>
<rect x="551" y="527" width="4" height="3" fill="#fff"/>
<path d="M553,529h1v1h-1zM552,528h1v1h-1z" fill="#000"/>
<rect x="559" y="527" width="17" height="3" fill="#fff"/>
<path d="M563,528h1v1h-1zM566,527h1v2h-1zM570,527h1v3h-1zM573,527h1v3h-1zM560,528h1v1h-1zM575,527h1v1h-1zM573,527h1v1h-1zM569,527h1v1h-1zM565,529h1v1h-1zM569,528h1v1h-1zM567,529h1v1h-1zM570,529h1v1h-1zM569,528h1v1h-1z" fill="#000"/>
<rect x="579" y="527" width="6" height="3" fill="#fff"/>
<path d="M582,527h1v3h-1zM584,528h1v1h-1zM579,529h1v1h-1zM583,529h1v1h-1z" fill="#000"/>
<rect x="586" y="527" width="6" height="3" fill="#fff"/>
<path d="M589,528h1v2h-1zM589,528h1v1h-1zM591,527h1v1h-1zM589,528h1v1h-1z" fill="#000"/>
<rect x="483" y="532" width="8" height="3" fill="#fff"/>
<path d="M487,533h1v2h-1zM483,532h1v1h-1zM490,533h1v1h-1z" fill="#000"/>
<rect x="493" y="532" width="20" height="3" fill="#fff"/>
<path d="M496,532h1v3h-1zM501,532h1v3h-1zM505,532h1v3h-1zM509,532h1v3h-1zM510,534h1v1h-1zM502,532h1v1h-1zM511,534h1v1h-1zM498,534h1v1h-1zM501,532h1v1h-1zM496,533h1v1h-1zM512,534h1v1h-1z" fill="#000"/>
<rect x="515" y="532" width="18" height="3" fill="#fff"/>
<path d="M518,532h1v3h-1zM523,534h1v1h-1zM527,532h1v3h-1zM531,532h1v3h-1zM530,532h1v1h-1zM532,532h1v1h-1zM532,534h1v1h-1zM532,532h1v1h-1zM526,533h1v1h-1zM528,533h1v1h-1z" fill="#000"/>
<rect x="551" y="532" width="4" height="3" fill="#fff"/>
<path d="M554,534h1v1h-1zM553,534h1v1h-1z" fill="#000"/>
<rect x="559" y="532" width="17" height="3" fill="#fff"/>
<path d="M563,533h1v1h-1zM566,532h1v3h-1zM570,533h1v2h-1zM573,532h1v3h-1zM567,532h1v1h-1zM574,533h1v1h-1zM560,533h1v1h-1zM565,532h1v1h-1zM569,533h1v1h-1zM574,532h1v1h-1zM562,532h1v1h-1zM563,533h1v1h-1zM575,534h1v1h-1z" fill="#000"/>
<rect x="579" y="532" width="6" height="3" fill="#fff"/>
<path d="M583,532h1v2h-1zM583,534h1v1h-1zM583,532h1v1h-1zM582,532h1v1h-1z" fill="#000"/>
<rect x="586" y="532" width="6" height="3" fill="#fff"/>
<path d="M590,532h1v3h-1zM589,534h1v1h-1zM589,534h1v1h-1zM589,534h1v1h-1z" fill="#000"/>
<line x1="481.40" y1="386.30" x2="610.50" y2="386.30" stroke="#fff" stroke-width="1" />
<line x1="481.40" y1="392.08" x2="610.50" y2="392.08" stroke="#fff" stroke-width="1" />
<line x1="481.40" y1="397.86" x2="610.50" y2="397.86" stroke="#fff" stroke-width="1" />
<line x1="481.40" y1="403.64" x2="610.50" y2="403.64" stroke="#fff" stroke-width="1" />
<line x1="481.40" y1="409.42" x2="610.50" y2="409.42" stroke="#fff" stroke-width="1" />
<line x1="481.40" y1="415.20" x2="610.50" y2="415.20" stroke="#fff" stroke-width="1" />
<line x1="481.40" y1="420.98" x2="610.50" y2="420.98" stroke="#fff" stroke-width="1" />
<line x1="481.40" y1="426.76" x2="610.50" y2="426.76" stroke="#fff" stroke-width="1" />
<line x1="481.40" y1="432.54" x2="610.50" y2="432.54" stroke="#fff" stroke-width="1" />
<line x1="481.40" y1="438.32" x2="610.50" y2="438.32" stroke="#fff" stroke-width="1" />
<line x1="481.40" y1="444.10" x2="610.50" y2="444.10" stroke="#fff" stroke-width="1" />
<line x1="481.40" y1="449.88" x2="610.50" y2="449.88" stroke="#fff" stroke-width="1" />
<line x1="481.40" y1="455.66" x2="610.50" y2="455.66" stroke="#fff" stroke-width="1" />
<line x1="481.40" y1="461.44" x2="610.50" y2="461.44" stroke="#fff" stroke-width="1" />
<line x1="481.40" y1="467.22" x2="610.50" y2="467.22" stroke="#fff" stroke-width="1" />
<line x1="481.40" y1="473.00" x2="610.50" y2="473.00" stroke="#fff" stroke-width="1" />
<line x1="481.40" y1="478.78" x2="610.50" y2="478.78" stroke="#fff" stroke-width="1" />
<line x1="481.40" y1="484.56" x2="610.50" y2="484.56" stroke="#fff" stroke-width="1" />
<line x1="481.40" y1="490.34" x2="610.50" y2="490.34" stroke="#fff" stroke-width="1" />
<line x1="481.40" y1="496.12" x2="610.50" y2="496.12" stroke="#fff" stroke-width="1" />
<line x1="481.40" y1="501.90" x2="610.50" y2="501.90" stroke="#fff" stroke-width="1" />
<line x1="481.40" y1="507.68" x2="610.50" y2="507.68" stroke="#fff" stroke-width="1" />
<line x1="481.40" y1="513.46" x2="610.50" y2="513.46" stroke="#fff" stroke-width="1" />
<line x1="481.40" y1="519.24" x2="610.50" y2="519.24" stroke="#fff" stroke-width="1" />
<line x1="481.40" y1="525.02" x2="610.50" y2="525.02" stroke="#fff" stroke-width="1" />
<line x1="481.40" y1="530.80" x2="610.50" y2="530.80" stroke="#fff" stroke-width="1" />
<line x1="481.40" y1="536.58" x2="610.50" y2="536.58" stroke="#fff" stroke-width="1" />
<line x1="481.40" y1="386.30" x2="481.40" y2="536.58" stroke="#fff" stroke-width="1" />
<line x1="491.60" y1="386.30" x2="491.60" y2="536.58" stroke="#fff" stroke-width="1" />
<line x1="513.50" y1="386.30" x2="513.50" y2="536.58" stroke="#fff" stroke-width="1" />
<line x1="549.90" y1="386.30" x2="549.90" y2="536.58" stroke="#fff" stroke-width="1" />
<line x1="556.70" y1="386.30" x2="556.70" y2="536.58" stroke="#fff" stroke-width="1" />
<line x1="578.30" y1="386.30" x2="578.30" y2="536.58" stroke="#fff" stroke-width="1" />
<line x1="585.90" y1="386.30" x2="585.90" y2="536.58" stroke="#fff" stroke-width="1" />
<line x1="592.20" y1="386.30" x2="592.20" y2="536.58" stroke="#fff" stroke-width="1" />
<line x1="610.50" y1="386.30" x2="610.50" y2="536.58" stroke="#fff" stroke-width="1" />
<rect x="483" y="538" width="6" height="5" fill="#fff"/>
<path d="M486,538h1v5h-1zM483,538h1v1h-1zM487,539h1v1h-1zM486,540h1v1h-1z" fill="#000"/>
<rect x="496" y="538" width="13" height="5" fill="#fff"/>
<path d="M499,539h1v4h-1zM503,540h1v4h-1zM505,541h1v1h-1zM498,540h1v1h-1zM504,542h1v1h-1zM497,540h1v1h-1zM501,540h1v1h-1zM506,539h1v1h-1zM505,539h1v1h-1z" fill="#000"/>
<rect x="524" y="538" width="2" height="5" fill="#fff"/>
<path d="M525,539h1v1h-1z" fill="#000"/>
<rect x="538" y="538" width="2" height="5" fill="#fff"/>
<path d="M538,542h1v1h-1z" fill="#000"/>
<rect x="552" y="538" width="4" height="5" fill="#fff"/>
<path d="M554,541h1v1h-1zM554,538h1v1h-1z" fill="#000"/>
<rect x="561" y="538" width="2" height="5" fill="#fff"/>
<path d="M562,538h1v1h-1z" fill="#000"/>
<rect x="569" y="538" width="2" height="5" fill="#fff"/>
<path d="M569,539h1v1h-1z" fill="#000"/>
<rect x="580" y="538" width="10" height="5" fill="#fff"/>
<path d="M584,538h1v5h-1zM587,538h1v5h-1zM583,540h1v1h-1zM583,538h1v1h-1zM580,538h1v1h-1zM580,539h1v1h-1zM586,540h1v1h-1zM588,541h1v1h-1z" fill="#000"/>
<rect x="596" y="538" width="2" height="5" fill="#fff"/>
<path d="M597,540h1v1h-1z" fill="#000"/>
<rect x="604" y="538" width="2" height="5" fill="#fff"/>
<path d="M605,540h1v1h-1z" fill="#000"/>
<rect x="580" y="537" width="10" height="7" fill="#fff"/>
<path d="M584,542h1v6h-1zM588,538h1v1h-1zM586,542h1v1h-1zM580,539h1v1h-1zM589,540h1v1h-1zM582,538h1v1h-1zM588,540h1v1h-1zM584,542h1v1h-1zM589,538h1v1h-1zM581,541h1v1h-1zM585,537h1v1h-1zM588,539h1v1h-1zM588,537h1v1h-1zM582,538h1v1h-1z" fill="#000"/>
<rect x="485" y="545" width="4" height="4" fill="#fff"/>
<path d="M485,545h1v1h-1z" fill="#000"/>
<rect x="509" y="545" width="9" height="4" fill="#fff"/>
<path d="M513,545h1v4h-1zM512,547h1v1h-1zM510,546h1v1h-1zM515,547h1v1h-1zM513,546h1v1h-1z" fill="#000"/>
<rect x="539" y="545" width="4" height="4" fill="#fff"/>
<path d="M541,545h1v1h-1z" fill="#000"/>
<rect x="556" y="545" width="5" height="4" fill="#fff"/>
<path d="M559,546h1v3h-1zM558,548h1v1h-1zM556,547h1v1h-1z" fill="#000"/>
<rect x="565" y="545" width="4" height="4" fill="#fff"/>
<path d="M566,547h1v1h-1z" fill="#000"/>
<rect x="576" y="545" width="15" height="4" fill="#fff"/>
<path d="M579,545h1v4h-1zM584,545h1v4h-1zM588,545h1v4h-1zM580,545h1v1h-1zM581,546h1v1h-1zM578,546h1v1h-1z" fill="#000"/>
<rect x="594" y="545" width="16" height="4" fill="#fff"/>
<path d="M597,547h1v3h-1zM600,545h1v4h-1zM603,545h1v4h-1zM608,545h1v4h-1zM609,546h1v1h-1zM602,545h1v1h-1zM598,547h1v1h-1z" fill="#000"/>
<rect x="485" y="552" width="5" height="4" fill="#fff"/>
<path d="M488,552h1v4h-1zM486,552h1v1h-1zM489,553h1v1h-1z" fill="#000"/>
<rect x="505" y="552" width="2" height="4" fill="#fff"/>
<rect x="519" y="552" width="2" height="4" fill="#fff"/>
<rect x="538" y="552" width="2" height="4" fill="#fff"/>
<rect x="546" y="552" width="2" height="4" fill="#fff"/>
<rect x="554" y="552" width="9" height="4" fill="#fff"/>
<path d="M557,552h1v4h-1zM559,555h1v1h-1zM558,552h1v1h-1zM560,553h1v1h-1zM557,555h1v1h-1z" fill="#000"/>
<rect x="566" y="552" width="3" height="4" fill="#fff"/>
<path d="M567,554h1v1h-1z" fill="#000"/>
<rect x="578" y="552" width="6" height="4" fill="#fff"/>
<path d="M581,552h1v4h-1zM581,553h1v1h-1zM578,554h1v1h-1z" fill="#000"/>
<rect x="597" y="552" width="7" height="4" fill="#fff"/>
<path d="M600,553h1v1h-1zM598,553h1v1h-1zM597,554h1v1h-1zM599,555h1v1h-1z" fill="#000"/>
<line x1="481.40" y1="544.20" x2="610.50" y2="544.20" stroke="#fff" stroke-width="1" />
<line x1="481.40" y1="550.20" x2="610.50" y2="550.20" stroke="#fff" stroke-width="1" />
<line x1="481.40" y1="557.40" x2="610.50" y2="557.40" stroke="#fff" stroke-width="1" />
<line x1="544.00" y1="564.00" x2="610.50" y2="564.00" stroke="#fff" stroke-width="1" />
<line x1="481.40" y1="570.60" x2="610.50" y2="570.60" stroke="#fff" stroke-width="1" />
<line x1="481.40" y1="576.60" x2="610.50" y2="576.60" stroke="#fff" stroke-width="1" />
<line x1="481.40" y1="582.00" x2="610.50" y2="582.00" stroke="#fff" stroke-width="1" />
<line x1="481.40" y1="588.00" x2="610.50" y2="588.00" stroke="#fff" stroke-width="1" />
<line x1="481.40" y1="593.40" x2="610.50" y2="593.40" stroke="#fff" stroke-width="1" />
<line x1="481.40" y1="598.80" x2="610.50" y2="598.80" stroke="#fff" stroke-width="1" />
<line x1="481.40" y1="536.58" x2="481.40" y2="598.80" stroke="#fff" stroke-width="1" />
<line x1="610.50" y1="536.58" x2="610.50" y2="598.80" stroke="#fff" stroke-width="1" />
<line x1="492.20" y1="536.60" x2="492.20" y2="544.20" stroke="#fff" stroke-width="1" />
<line x1="513.80" y1="536.60" x2="513.80" y2="544.20" stroke="#fff" stroke-width="1" />
<line x1="550.20" y1="536.60" x2="550.20" y2="544.20" stroke="#fff" stroke-width="1" />
<line x1="556.80" y1="536.60" x2="556.80" y2="544.20" stroke="#fff" stroke-width="1" />
<line x1="578.40" y1="536.60" x2="578.40" y2="544.20" stroke="#fff" stroke-width="1" />
<line x1="592.80" y1="536.60" x2="592.80" y2="544.20" stroke="#fff" stroke-width="1" />
<line x1="495.40" y1="544.20" x2="495.40" y2="557.40" stroke="#fff" stroke-width="1" />
<line x1="531.40" y1="544.20" x2="531.40" y2="557.40" stroke="#fff" stroke-width="1" />
<line x1="553.50" y1="544.20" x2="553.50" y2="557.40" stroke="#fff" stroke-width="1" />
<line x1="564.00" y1="544.20" x2="564.00" y2="557.40" stroke="#fff" stroke-width="1" />
<line x1="574.80" y1="544.20" x2="574.80" y2="557.40" stroke="#fff" stroke-width="1" />
<line x1="592.80" y1="544.20" x2="592.80" y2="557.40" stroke="#fff" stroke-width="1" />
<line x1="544.00" y1="557.40" x2="544.00" y2="598.80" stroke="#fff" stroke-width="1" />
<line x1="513.80" y1="570.60" x2="513.80" y2="598.80" stroke="#fff" stroke-width="1" />
<rect x="484" y="572" width="23" height="4" fill="#fff"/>
<path d="M487,573h1v3h-1zM491,575h1v1h-1zM496,572h1v4h-1zM500,572h1v4h-1zM504,574h1v3h-1zM485,572h1v1h-1zM492,574h1v1h-1zM489,575h1v1h-1zM501,574h1v1h-1zM484,574h1v1h-1z" fill="#000"/>
<rect x="568" y="572" width="18" height="4" fill="#fff"/>
<path d="M571,572h1v4h-1zM576,572h1v4h-1zM581,572h1v4h-1zM584,572h1v1h-1zM572,575h1v1h-1zM582,575h1v1h-1zM577,572h1v1h-1z" fill="#000"/>
<rect x="573" y="578" width="6" height="3" fill="#fff"/>
<path d="M576,578h1v2h-1zM578,580h1v1h-1z" fill="#000"/>
<line x1="493.40" y1="576.60" x2="493.40" y2="598.80" stroke="#fff" stroke-width="1" />
<line x1="525.40" y1="576.60" x2="525.40" y2="598.80" stroke="#fff" stroke-width="1" />
<line x1="555.20" y1="582.00" x2="555.20" y2="598.80" stroke="#fff" stroke-width="1" />
<line x1="569.40" y1="582.00" x2="569.40" y2="598.80" stroke="#fff" stroke-width="1" />
<line x1="578.40" y1="582.00" x2="578.40" y2="598.80" stroke="#fff" stroke-width="1" />
<line x1="592.80" y1="582.00" x2="592.80" y2="598.80" stroke="#fff" stroke-width="1" />
<rect x="484" y="578" width="8" height="3" fill="#fff"/>
<path d="M487,578h1v2h-1zM491,580h1v1h-1z" fill="#000"/>
<rect x="484" y="583" width="8" height="4" fill="#fff"/>
<path d="M487,583h1v4h-1zM490,586h1v1h-1z" fill="#000"/>
<line x1="482.50" y1="591.00" x2="492.50" y2="591.00" stroke="#fff" stroke-width="1" />
<rect x="483" y="595" width="10" height="3" fill="#fff"/>
<path d="M486,595h1v3h-1zM489,595h1v2h-1zM488,596h1v1h-1zM487,596h1v1h-1zM492,597h1v1h-1z" fill="#000"/>
<rect x="517" y="578" width="7" height="3" fill="#fff"/>
<path d="M520,578h1v3h-1zM523,580h1v1h-1z" fill="#000"/>
<rect x="517" y="583" width="7" height="4" fill="#fff"/>
<path d="M520,583h1v3h-1zM522,585h1v1h-1z" fill="#000"/>
<rect x="517" y="589" width="7" height="4" fill="#fff"/>
<path d="M520,589h1v4h-1zM521,590h1v1h-1z" fill="#000"/>
<rect x="517" y="595" width="7" height="3" fill="#fff"/>
<path d="M520,595h1v3h-1zM517,595h1v1h-1z" fill="#000"/>
<rect x="547" y="583" width="7" height="4" fill="#fff"/>
<path d="M551,585h1v1h-1zM552,585h1v1h-1z" fill="#000"/>
<rect x="570" y="583" width="5" height="4" fill="#fff"/>
<path d="M571,585h1v1h-1z" fill="#000"/>
<rect x="579" y="584" width="31" height="2" fill="#fff"/>
<path d="M582,585h1v1h-1zM587,584h1v2h-1zM590,585h1v1h-1zM593,584h1v2h-1zM597,585h1v1h-1zM602,585h1v1h-1zM606,584h1v2h-1zM588,584h1v1h-1zM579,584h1v1h-1zM590,584h1v1h-1zM597,585h1v1h-1zM605,585h1v1h-1zM588,585h1v1h-1zM601,584h1v1h-1z" fill="#000"/>
<rect x="546" y="589" width="9" height="4" fill="#fff"/>
<path d="M549,592h1v1h-1zM553,589h1v4h-1zM550,591h1v1h-1zM547,590h1v1h-1zM549,592h1v1h-1zM546,590h1v1h-1zM551,591h1v1h-1zM550,590h1v1h-1z" fill="#000"/>
<rect x="559" y="589" width="5" height="3" fill="#fff"/>
<path d="M562,591h1v1h-1zM560,589h1v1h-1z" fill="#000"/>
<rect x="571" y="589" width="5" height="4" fill="#fff"/>
<path d="M574,589h1v4h-1zM574,592h1v1h-1z" fill="#000"/>
<rect x="581" y="589" width="9" height="3" fill="#fff"/>
<path d="M585,589h1v3h-1zM588,589h1v3h-1zM587,589h1v1h-1zM585,591h1v1h-1zM586,591h1v1h-1z" fill="#000"/>
<rect x="594" y="589" width="14" height="3" fill="#fff"/>
<path d="M598,589h1v3h-1zM602,589h1v3h-1zM606,589h1v3h-1zM606,590h1v1h-1zM596,589h1v1h-1zM597,589h1v1h-1zM603,591h1v1h-1zM602,591h1v1h-1z" fill="#000"/>
<rect x="546" y="595" width="7" height="3" fill="#fff"/>
<path d="M550,595h1v2h-1zM551,596h1v1h-1z" fill="#000"/>
<rect x="571" y="595" width="5" height="3" fill="#fff"/>
<rect x="582" y="595" width="4" height="3" fill="#fff"/>
<path d="M582,596h1v1h-1z" fill="#000"/>
<rect x="594" y="595" width="14" height="3" fill="#fff"/>
<path d="M597,595h1v3h-1zM602,596h1v2h-1zM606,595h1v3h-1zM601,597h1v1h-1zM601,597h1v1h-1zM601,595h1v1h-1zM603,595h1v1h-1zM594,596h1v1h-1z" fill="#000"/>
<line x1="266.50" y1="468.80" x2="266.50" y2="472.00" stroke="#fff" stroke-width="1" />
<line x1="260.00" y1="473.50" x2="272.70" y2="473.50" stroke="#fff" stroke-width="1" />
<rect x="261" y="474" width="11" height="4" fill="#fff"/>
<path d="M264,477h1v1h-1zM267,475h1v3h-1zM269,476h1v1h-1z" fill="#000"/>
<line x1="267.9" y1="479.5" x2="267.9" y2="576" stroke="#fff" stroke-width="0.8" stroke-dasharray="6,1.5,1,1.5"/>
<path d="M257.1,492.5 Q262,502 267,495 Q272,487 276.6,492.5" fill="none" stroke="#fff" stroke-width="1"/>
<line x1="257.10" y1="492.50" x2="257.10" y2="570.50" stroke="#fff" stroke-width="1" />
<line x1="276.60" y1="492.50" x2="276.60" y2="570.50" stroke="#fff" stroke-width="1" />
<line x1="260.30" y1="496.00" x2="260.30" y2="570.50" stroke="#fff" stroke-width="1" />
<line x1="273.10" y1="494.00" x2="273.10" y2="570.50" stroke="#fff" stroke-width="1" />
<line x1="258.7" y1="496" x2="258.7" y2="529" stroke="#fff" stroke-width="1.6" stroke-dasharray="1,1" opacity="0.8"/>
<line x1="274.8" y1="494" x2="274.8" y2="529" stroke="#fff" stroke-width="1.6" stroke-dasharray="1,1" opacity="0.8"/>
<rect x="246.70" y="520.70" width="13.00" height="32.50" fill="none" stroke="#fff" stroke-width="1"/>
<rect x="243" y="535" width="4" height="2" fill="#fff"/>
<path d="M246,536h1v1h-1z" fill="#000"/>
<rect x="252.10" y="529.30" width="30.30" height="41.20" fill="none" stroke="#fff" stroke-width="1"/>
<line x1="260.30" y1="554.30" x2="273.10" y2="554.30" stroke="#fff" stroke-width="1" />
<g stroke="#fff" stroke-width="0.8">
<path d="M252.1,533 L257,529.3 M252.1,537 L257.1,533 M252.1,541 L257.1,537 M252.1,545 L257.1,541 M252.1,549 L257.1,545 M252.1,553 L257.1,549 M252.1,557 L257.1,553 M252.1,561 L257.1,557 M252.1,565 L257.1,561 M252.1,569 L257.1,565"/>
<path d="M276.6,533 L282.4,528.5 M276.6,537 L282.4,532.5 M276.6,541 L282.4,536.5 M276.6,545 L282.4,540.5 M276.6,549 L282.4,544.5 M276.6,553 L282.4,548.5 M276.6,557 L282.4,552.5 M276.6,561 L282.4,556.5 M276.6,565 L282.4,560.5 M276.6,569 L282.4,564.5"/>
</g>
<line x1="257.10" y1="578.80" x2="277.00" y2="578.80" stroke="#fff" stroke-width="1" />
<line x1="257.50" y1="570.50" x2="257.50" y2="580.00" stroke="#fff" stroke-width="1" />
<line x1="276.50" y1="570.50" x2="276.50" y2="580.00" stroke="#fff" stroke-width="1" />
<rect x="263" y="575" width="9" height="3" fill="#fff"/>
<path d="M266,576h1v2h-1zM270,575h1v2h-1zM267,575h1v1h-1z" fill="#000"/>
<rect x="351" y="468" width="27" height="4" fill="#fff"/>
<path d="M355,469h1v1h-1zM358,468h1v4h-1zM362,468h1v4h-1zM366,468h1v3h-1zM370,468h1v4h-1zM374,468h1v4h-1zM369,469h1v1h-1zM377,471h1v1h-1zM366,469h1v1h-1zM366,470h1v1h-1zM354,471h1v1h-1zM373,471h1v1h-1z" fill="#000"/>
<line x1="350.00" y1="473.00" x2="379.20" y2="473.00" stroke="#fff" stroke-width="1" />
<rect x="359" y="474" width="10" height="4" fill="#fff"/>
<path d="M363,474h1v4h-1zM366,476h1v3h-1zM363,474h1v1h-1z" fill="#000"/>
<rect x="350.30" y="512.50" width="33.00" height="32.50" fill="none" stroke="#fff" stroke-width="1"/>
<line x1="350.30" y1="516.70" x2="383.30" y2="516.70" stroke="#fff" stroke-width="1" />
<line x1="350.30" y1="520.00" x2="379.20" y2="520.00" stroke="#fff" stroke-width="1" />
<line x1="379.20" y1="512.50" x2="379.20" y2="545.00" stroke="#fff" stroke-width="1" />
<g stroke="#fff" stroke-width="0.8">
<path d="M352,520 L355,516.7 M356,520 L359,516.7 M360,520 L363,516.7 M364,520 L367,516.7 M368,520 L371,516.7 M372,520 L375,516.7 M376,520 L379,516.7"/>
<path d="M379.2,524 L383.3,520 M379.2,528 L383.3,524 M379.2,532 L383.3,528 M379.2,536 L383.3,532 M379.2,540 L383.3,536 M379.2,544 L383.3,540"/>
</g>
<line x1="360.8" y1="507.5" x2="360.8" y2="550.8" stroke="#fff" stroke-width="0.8" stroke-dasharray="5,1.5,1,1.5"/>
<line x1="395.80" y1="505.00" x2="395.80" y2="521.70" stroke="#fff" stroke-width="1" />
<line x1="383.30" y1="512.50" x2="396.70" y2="512.50" stroke="#fff" stroke-width="1" />
<line x1="383.30" y1="515.80" x2="396.70" y2="515.80" stroke="#fff" stroke-width="1" />
<line x1="389.20" y1="515.80" x2="389.20" y2="527.50" stroke="#fff" stroke-width="1" />
<rect x="394" y="505" width="1" height="3" fill="#fff"/>
<rect x="387" y="524" width="2" height="3" fill="#fff"/>
<circle cx="380.50" cy="514.50" r="1.00" fill="none" stroke="#fff" stroke-width="1"/>
<rect x="190.00" y="343.00" width="1.00" height="1.00" fill="#fff"/>
</g>
</svg>
</body></html>
